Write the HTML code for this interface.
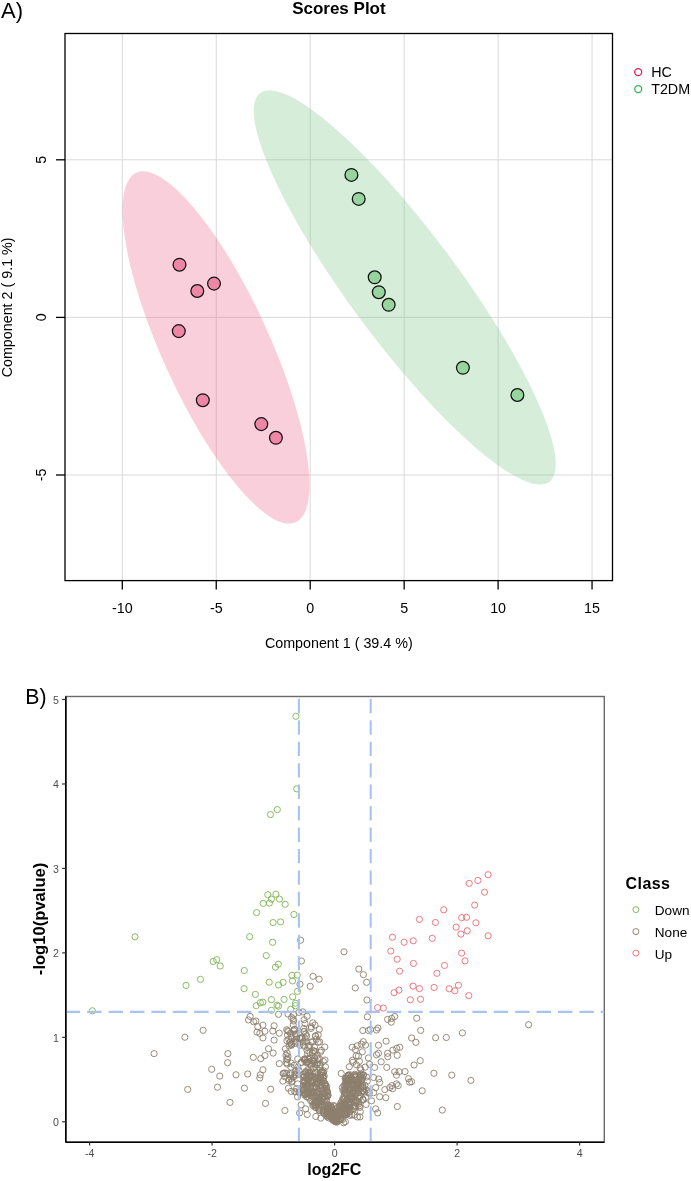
<!DOCTYPE html>
<html><head><meta charset="utf-8"><style>html,body{margin:0;padding:0;background:#fff;}svg{display:block;will-change:transform;}</style></head>
<body><svg width="691" height="1181" viewBox="0 0 691 1181">
<rect width="691" height="1181" fill="#fff"/>
<text x="1.0" y="18.3" font-size="22" font-family="Liberation Sans, sans-serif" fill="#000">A)</text>
<text x="338.9" y="14.2" font-size="17" font-weight="bold" text-anchor="middle" font-family="Liberation Sans, sans-serif" fill="#000">Scores Plot</text>
<line x1="122.30" y1="33.5" x2="122.30" y2="580.6" stroke="#d9d9d9" stroke-width="1"/>
<line x1="216.25" y1="33.5" x2="216.25" y2="580.6" stroke="#d9d9d9" stroke-width="1"/>
<line x1="310.20" y1="33.5" x2="310.20" y2="580.6" stroke="#d9d9d9" stroke-width="1"/>
<line x1="404.15" y1="33.5" x2="404.15" y2="580.6" stroke="#d9d9d9" stroke-width="1"/>
<line x1="498.10" y1="33.5" x2="498.10" y2="580.6" stroke="#d9d9d9" stroke-width="1"/>
<line x1="592.05" y1="33.5" x2="592.05" y2="580.6" stroke="#d9d9d9" stroke-width="1"/>
<line x1="65.0" y1="159.80" x2="612.5" y2="159.80" stroke="#d9d9d9" stroke-width="1"/>
<line x1="65.0" y1="317.40" x2="612.5" y2="317.40" stroke="#d9d9d9" stroke-width="1"/>
<line x1="65.0" y1="475.00" x2="612.5" y2="475.00" stroke="#d9d9d9" stroke-width="1"/>
<ellipse cx="216" cy="347.45" rx="192.08" ry="53.64" transform="rotate(65.47 216 347.45)" fill="rgb(238,105,146)" fill-opacity="0.32"/>
<ellipse cx="404.75" cy="287.45" rx="242.29" ry="54.5" transform="rotate(53.38 404.75 287.45)" fill="rgb(128,200,140)" fill-opacity="0.32"/>
<circle cx="179.5" cy="264.7" r="6.4" fill="#ee87a5" stroke="#111" stroke-width="1.25"/>
<circle cx="197.3" cy="291.0" r="6.4" fill="#ee87a5" stroke="#111" stroke-width="1.25"/>
<circle cx="214.0" cy="283.6" r="6.4" fill="#ee87a5" stroke="#111" stroke-width="1.25"/>
<circle cx="178.8" cy="331.1" r="6.4" fill="#ee87a5" stroke="#111" stroke-width="1.25"/>
<circle cx="202.8" cy="400.2" r="6.4" fill="#ee87a5" stroke="#111" stroke-width="1.25"/>
<circle cx="261.3" cy="424.1" r="6.4" fill="#ee87a5" stroke="#111" stroke-width="1.25"/>
<circle cx="275.9" cy="437.8" r="6.4" fill="#ee87a5" stroke="#111" stroke-width="1.25"/>
<circle cx="351.4" cy="174.9" r="6.4" fill="#97d59e" stroke="#111" stroke-width="1.25"/>
<circle cx="358.7" cy="198.9" r="6.4" fill="#97d59e" stroke="#111" stroke-width="1.25"/>
<circle cx="374.7" cy="277.3" r="6.4" fill="#97d59e" stroke="#111" stroke-width="1.25"/>
<circle cx="378.8" cy="292.2" r="6.4" fill="#97d59e" stroke="#111" stroke-width="1.25"/>
<circle cx="388.7" cy="304.8" r="6.4" fill="#97d59e" stroke="#111" stroke-width="1.25"/>
<circle cx="462.9" cy="367.8" r="6.4" fill="#97d59e" stroke="#111" stroke-width="1.25"/>
<circle cx="517.4" cy="395" r="6.4" fill="#97d59e" stroke="#111" stroke-width="1.25"/>
<rect x="65.0" y="33.5" width="547.5" height="547.1" fill="none" stroke="#000" stroke-width="1.3"/>
<line x1="122.30" y1="580.6" x2="122.30" y2="589.6" stroke="#000" stroke-width="1.3"/>
<text x="122.30" y="613.3" font-size="14.3" text-anchor="middle" font-family="Liberation Sans, sans-serif" fill="#000">-10</text>
<line x1="216.25" y1="580.6" x2="216.25" y2="589.6" stroke="#000" stroke-width="1.3"/>
<text x="216.25" y="613.3" font-size="14.3" text-anchor="middle" font-family="Liberation Sans, sans-serif" fill="#000">-5</text>
<line x1="310.20" y1="580.6" x2="310.20" y2="589.6" stroke="#000" stroke-width="1.3"/>
<text x="310.20" y="613.3" font-size="14.3" text-anchor="middle" font-family="Liberation Sans, sans-serif" fill="#000">0</text>
<line x1="404.15" y1="580.6" x2="404.15" y2="589.6" stroke="#000" stroke-width="1.3"/>
<text x="404.15" y="613.3" font-size="14.3" text-anchor="middle" font-family="Liberation Sans, sans-serif" fill="#000">5</text>
<line x1="498.10" y1="580.6" x2="498.10" y2="589.6" stroke="#000" stroke-width="1.3"/>
<text x="498.10" y="613.3" font-size="14.3" text-anchor="middle" font-family="Liberation Sans, sans-serif" fill="#000">10</text>
<line x1="592.05" y1="580.6" x2="592.05" y2="589.6" stroke="#000" stroke-width="1.3"/>
<text x="592.05" y="613.3" font-size="14.3" text-anchor="middle" font-family="Liberation Sans, sans-serif" fill="#000">15</text>
<line x1="56" y1="159.80" x2="65.0" y2="159.80" stroke="#000" stroke-width="1.3"/>
<text transform="translate(46.2 159.80) rotate(-90)" font-size="14.3" text-anchor="middle" font-family="Liberation Sans, sans-serif" fill="#000">5</text>
<line x1="56" y1="317.40" x2="65.0" y2="317.40" stroke="#000" stroke-width="1.3"/>
<text transform="translate(46.2 317.40) rotate(-90)" font-size="14.3" text-anchor="middle" font-family="Liberation Sans, sans-serif" fill="#000">0</text>
<line x1="56" y1="475.00" x2="65.0" y2="475.00" stroke="#000" stroke-width="1.3"/>
<text transform="translate(46.2 475.00) rotate(-90)" font-size="14.3" text-anchor="middle" font-family="Liberation Sans, sans-serif" fill="#000">-5</text>
<text x="338.8" y="647.7" font-size="14.3" text-anchor="middle" font-family="Liberation Sans, sans-serif" fill="#000">Component 1 ( 39.4 %)</text>
<text transform="translate(12.2 307.4) rotate(-90)" font-size="14.3" text-anchor="middle" font-family="Liberation Sans, sans-serif" fill="#000">Component 2 ( 9.1 %)</text>
<circle cx="638.2" cy="72.1" r="3.5" fill="none" stroke="#dc1e50" stroke-width="1.3"/>
<circle cx="638.2" cy="89.1" r="3.5" fill="none" stroke="#32b450" stroke-width="1.3"/>
<text x="651.2" y="77" font-size="14.3" font-family="Liberation Sans, sans-serif" fill="#000">HC</text>
<text x="651.2" y="94" font-size="14.3" font-family="Liberation Sans, sans-serif" fill="#000">T2DM</text>
<text x="25.2" y="704.4" font-size="21.3" font-family="Liberation Sans, sans-serif" fill="#000">B)</text>
<rect x="65.8" y="696.5" width="538.5" height="445.70000000000005" fill="none" stroke="#6a6a6a" stroke-width="1.4"/>
<circle cx="295.9" cy="716.3" r="3.1" fill="none" stroke="#7db352" stroke-width="0.9"/>
<circle cx="296.7" cy="788.8" r="3.1" fill="none" stroke="#7db352" stroke-width="0.9"/>
<circle cx="277.3" cy="809.6" r="3.1" fill="none" stroke="#7db352" stroke-width="0.9"/>
<circle cx="270.5" cy="814.6" r="3.1" fill="none" stroke="#7db352" stroke-width="0.9"/>
<circle cx="267.8" cy="894.7" r="3.1" fill="none" stroke="#7db352" stroke-width="0.9"/>
<circle cx="275.9" cy="894.2" r="3.1" fill="none" stroke="#7db352" stroke-width="0.9"/>
<circle cx="271.4" cy="899.1" r="3.1" fill="none" stroke="#7db352" stroke-width="0.9"/>
<circle cx="279.5" cy="899.1" r="3.1" fill="none" stroke="#7db352" stroke-width="0.9"/>
<circle cx="263.2" cy="903.4" r="3.1" fill="none" stroke="#7db352" stroke-width="0.9"/>
<circle cx="269.4" cy="903.1" r="3.1" fill="none" stroke="#7db352" stroke-width="0.9"/>
<circle cx="285.2" cy="904.3" r="3.1" fill="none" stroke="#7db352" stroke-width="0.9"/>
<circle cx="256.6" cy="912.6" r="3.1" fill="none" stroke="#7db352" stroke-width="0.9"/>
<circle cx="293.9" cy="914.5" r="3.1" fill="none" stroke="#7db352" stroke-width="0.9"/>
<circle cx="273.1" cy="922.6" r="3.1" fill="none" stroke="#7db352" stroke-width="0.9"/>
<circle cx="280.6" cy="921.9" r="3.1" fill="none" stroke="#7db352" stroke-width="0.9"/>
<circle cx="249.7" cy="936.7" r="3.1" fill="none" stroke="#7db352" stroke-width="0.9"/>
<circle cx="272.6" cy="942.3" r="3.1" fill="none" stroke="#7db352" stroke-width="0.9"/>
<circle cx="135.0" cy="936.8" r="3.1" fill="none" stroke="#7db352" stroke-width="0.9"/>
<circle cx="92.4" cy="1010.8" r="3.1" fill="none" stroke="#7db352" stroke-width="0.9"/>
<circle cx="213.2" cy="961.4" r="3.1" fill="none" stroke="#7db352" stroke-width="0.9"/>
<circle cx="216.7" cy="959.7" r="3.1" fill="none" stroke="#7db352" stroke-width="0.9"/>
<circle cx="220.2" cy="966.0" r="3.1" fill="none" stroke="#7db352" stroke-width="0.9"/>
<circle cx="200.5" cy="979.4" r="3.1" fill="none" stroke="#7db352" stroke-width="0.9"/>
<circle cx="186.0" cy="985.4" r="3.1" fill="none" stroke="#7db352" stroke-width="0.9"/>
<circle cx="266.3" cy="955.6" r="3.1" fill="none" stroke="#7db352" stroke-width="0.9"/>
<circle cx="278.3" cy="964.2" r="3.1" fill="none" stroke="#7db352" stroke-width="0.9"/>
<circle cx="275.5" cy="967.2" r="3.1" fill="none" stroke="#7db352" stroke-width="0.9"/>
<circle cx="244.3" cy="970.5" r="3.1" fill="none" stroke="#7db352" stroke-width="0.9"/>
<circle cx="291.9" cy="975.3" r="3.1" fill="none" stroke="#7db352" stroke-width="0.9"/>
<circle cx="297.2" cy="975.1" r="3.1" fill="none" stroke="#7db352" stroke-width="0.9"/>
<circle cx="292.5" cy="980.9" r="3.1" fill="none" stroke="#7db352" stroke-width="0.9"/>
<circle cx="269.2" cy="982.2" r="3.1" fill="none" stroke="#7db352" stroke-width="0.9"/>
<circle cx="278.5" cy="985.0" r="3.1" fill="none" stroke="#7db352" stroke-width="0.9"/>
<circle cx="283.1" cy="982.4" r="3.1" fill="none" stroke="#7db352" stroke-width="0.9"/>
<circle cx="244.1" cy="988.7" r="3.1" fill="none" stroke="#7db352" stroke-width="0.9"/>
<circle cx="297.5" cy="991.3" r="3.1" fill="none" stroke="#7db352" stroke-width="0.9"/>
<circle cx="255.4" cy="994.4" r="3.1" fill="none" stroke="#7db352" stroke-width="0.9"/>
<circle cx="292.7" cy="996.8" r="3.1" fill="none" stroke="#7db352" stroke-width="0.9"/>
<circle cx="271.4" cy="999.6" r="3.1" fill="none" stroke="#7db352" stroke-width="0.9"/>
<circle cx="284.1" cy="999.4" r="3.1" fill="none" stroke="#7db352" stroke-width="0.9"/>
<circle cx="262.8" cy="1002.2" r="3.1" fill="none" stroke="#7db352" stroke-width="0.9"/>
<circle cx="260.3" cy="1002.7" r="3.1" fill="none" stroke="#7db352" stroke-width="0.9"/>
<circle cx="256.2" cy="1005.7" r="3.1" fill="none" stroke="#7db352" stroke-width="0.9"/>
<circle cx="277.0" cy="1005.2" r="3.1" fill="none" stroke="#7db352" stroke-width="0.9"/>
<circle cx="278.5" cy="1006.2" r="3.1" fill="none" stroke="#7db352" stroke-width="0.9"/>
<circle cx="295.5" cy="1003.2" r="3.1" fill="none" stroke="#7db352" stroke-width="0.9"/>
<circle cx="295.5" cy="1005.7" r="3.1" fill="none" stroke="#7db352" stroke-width="0.9"/>
<circle cx="271.4" cy="1010.3" r="3.1" fill="none" stroke="#7db352" stroke-width="0.9"/>
<circle cx="290.7" cy="1009.3" r="3.1" fill="none" stroke="#7db352" stroke-width="0.9"/>
<circle cx="488.1" cy="874.7" r="3.1" fill="none" stroke="#ea6b74" stroke-width="0.9"/>
<circle cx="477.9" cy="880.4" r="3.1" fill="none" stroke="#ea6b74" stroke-width="0.9"/>
<circle cx="469.2" cy="883.4" r="3.1" fill="none" stroke="#ea6b74" stroke-width="0.9"/>
<circle cx="484.5" cy="892.2" r="3.1" fill="none" stroke="#ea6b74" stroke-width="0.9"/>
<circle cx="474.7" cy="905.1" r="3.1" fill="none" stroke="#ea6b74" stroke-width="0.9"/>
<circle cx="443.7" cy="909.8" r="3.1" fill="none" stroke="#ea6b74" stroke-width="0.9"/>
<circle cx="419.5" cy="919.4" r="3.1" fill="none" stroke="#ea6b74" stroke-width="0.9"/>
<circle cx="435.4" cy="922.5" r="3.1" fill="none" stroke="#ea6b74" stroke-width="0.9"/>
<circle cx="461.7" cy="917.6" r="3.1" fill="none" stroke="#ea6b74" stroke-width="0.9"/>
<circle cx="466.5" cy="917.3" r="3.1" fill="none" stroke="#ea6b74" stroke-width="0.9"/>
<circle cx="475.9" cy="922.8" r="3.1" fill="none" stroke="#ea6b74" stroke-width="0.9"/>
<circle cx="456.1" cy="927.1" r="3.1" fill="none" stroke="#ea6b74" stroke-width="0.9"/>
<circle cx="467.2" cy="930.8" r="3.1" fill="none" stroke="#ea6b74" stroke-width="0.9"/>
<circle cx="460.9" cy="934.1" r="3.1" fill="none" stroke="#ea6b74" stroke-width="0.9"/>
<circle cx="488.1" cy="935.8" r="3.1" fill="none" stroke="#ea6b74" stroke-width="0.9"/>
<circle cx="432.2" cy="938.3" r="3.1" fill="none" stroke="#ea6b74" stroke-width="0.9"/>
<circle cx="392.4" cy="937.2" r="3.1" fill="none" stroke="#ea6b74" stroke-width="0.9"/>
<circle cx="404.1" cy="942.3" r="3.1" fill="none" stroke="#ea6b74" stroke-width="0.9"/>
<circle cx="413.2" cy="940.8" r="3.1" fill="none" stroke="#ea6b74" stroke-width="0.9"/>
<circle cx="390.8" cy="951.1" r="3.1" fill="none" stroke="#ea6b74" stroke-width="0.9"/>
<circle cx="397.2" cy="959.2" r="3.1" fill="none" stroke="#ea6b74" stroke-width="0.9"/>
<circle cx="413.4" cy="963.5" r="3.1" fill="none" stroke="#ea6b74" stroke-width="0.9"/>
<circle cx="399.6" cy="971.2" r="3.1" fill="none" stroke="#ea6b74" stroke-width="0.9"/>
<circle cx="436.9" cy="973.3" r="3.1" fill="none" stroke="#ea6b74" stroke-width="0.9"/>
<circle cx="413.1" cy="986.1" r="3.1" fill="none" stroke="#ea6b74" stroke-width="0.9"/>
<circle cx="419.4" cy="988.6" r="3.1" fill="none" stroke="#ea6b74" stroke-width="0.9"/>
<circle cx="434.1" cy="987.5" r="3.1" fill="none" stroke="#ea6b74" stroke-width="0.9"/>
<circle cx="398.9" cy="990.1" r="3.1" fill="none" stroke="#ea6b74" stroke-width="0.9"/>
<circle cx="394.1" cy="992.7" r="3.1" fill="none" stroke="#ea6b74" stroke-width="0.9"/>
<circle cx="410.3" cy="999.8" r="3.1" fill="none" stroke="#ea6b74" stroke-width="0.9"/>
<circle cx="420.5" cy="999.3" r="3.1" fill="none" stroke="#ea6b74" stroke-width="0.9"/>
<circle cx="377.6" cy="1007.6" r="3.1" fill="none" stroke="#ea6b74" stroke-width="0.9"/>
<circle cx="383.3" cy="1008.1" r="3.1" fill="none" stroke="#ea6b74" stroke-width="0.9"/>
<circle cx="461.6" cy="953.1" r="3.1" fill="none" stroke="#ea6b74" stroke-width="0.9"/>
<circle cx="465.0" cy="960.9" r="3.1" fill="none" stroke="#ea6b74" stroke-width="0.9"/>
<circle cx="444.5" cy="965.5" r="3.1" fill="none" stroke="#ea6b74" stroke-width="0.9"/>
<circle cx="458.4" cy="985.2" r="3.1" fill="none" stroke="#ea6b74" stroke-width="0.9"/>
<circle cx="449.2" cy="988.8" r="3.1" fill="none" stroke="#ea6b74" stroke-width="0.9"/>
<circle cx="454.8" cy="990.8" r="3.1" fill="none" stroke="#ea6b74" stroke-width="0.9"/>
<circle cx="468.8" cy="995.6" r="3.1" fill="none" stroke="#ea6b74" stroke-width="0.9"/>
<circle cx="300.6" cy="940.2" r="3.1" fill="none" stroke="#8c7f6d" stroke-width="0.9"/>
<circle cx="344.0" cy="951.8" r="3.1" fill="none" stroke="#8c7f6d" stroke-width="0.9"/>
<circle cx="301.4" cy="961.0" r="3.1" fill="none" stroke="#8c7f6d" stroke-width="0.9"/>
<circle cx="358.8" cy="969.1" r="3.1" fill="none" stroke="#8c7f6d" stroke-width="0.9"/>
<circle cx="363.4" cy="974.6" r="3.1" fill="none" stroke="#8c7f6d" stroke-width="0.9"/>
<circle cx="366.6" cy="982.3" r="3.1" fill="none" stroke="#8c7f6d" stroke-width="0.9"/>
<circle cx="313.0" cy="976.3" r="3.1" fill="none" stroke="#8c7f6d" stroke-width="0.9"/>
<circle cx="319.1" cy="979.2" r="3.1" fill="none" stroke="#8c7f6d" stroke-width="0.9"/>
<circle cx="310.2" cy="986.3" r="3.1" fill="none" stroke="#8c7f6d" stroke-width="0.9"/>
<circle cx="300.0" cy="984.2" r="3.1" fill="none" stroke="#8c7f6d" stroke-width="0.9"/>
<circle cx="355.3" cy="987.9" r="3.1" fill="none" stroke="#8c7f6d" stroke-width="0.9"/>
<circle cx="366.9" cy="1000.0" r="3.1" fill="none" stroke="#8c7f6d" stroke-width="0.9"/>
<circle cx="278.5" cy="1014.3" r="3.1" fill="none" stroke="#8c7f6d" stroke-width="0.9"/>
<circle cx="250.1" cy="1016.4" r="3.1" fill="none" stroke="#8c7f6d" stroke-width="0.9"/>
<circle cx="367.4" cy="1016.8" r="3.1" fill="none" stroke="#8c7f6d" stroke-width="0.9"/>
<circle cx="387.6" cy="1019.4" r="3.1" fill="none" stroke="#8c7f6d" stroke-width="0.9"/>
<circle cx="391.7" cy="1018.4" r="3.1" fill="none" stroke="#8c7f6d" stroke-width="0.9"/>
<circle cx="394.7" cy="1016.5" r="3.1" fill="none" stroke="#8c7f6d" stroke-width="0.9"/>
<circle cx="391.2" cy="1022.2" r="3.1" fill="none" stroke="#8c7f6d" stroke-width="0.9"/>
<circle cx="362.8" cy="1030.5" r="3.1" fill="none" stroke="#8c7f6d" stroke-width="0.9"/>
<circle cx="368.4" cy="1030.5" r="3.1" fill="none" stroke="#8c7f6d" stroke-width="0.9"/>
<circle cx="370.4" cy="1029.5" r="3.1" fill="none" stroke="#8c7f6d" stroke-width="0.9"/>
<circle cx="376.5" cy="1030.0" r="3.1" fill="none" stroke="#8c7f6d" stroke-width="0.9"/>
<circle cx="378.0" cy="1028.0" r="3.1" fill="none" stroke="#8c7f6d" stroke-width="0.9"/>
<circle cx="386.1" cy="1041.2" r="3.1" fill="none" stroke="#8c7f6d" stroke-width="0.9"/>
<circle cx="378.5" cy="1045.2" r="3.1" fill="none" stroke="#8c7f6d" stroke-width="0.9"/>
<circle cx="363.3" cy="1041.7" r="3.1" fill="none" stroke="#8c7f6d" stroke-width="0.9"/>
<circle cx="361.3" cy="1044.2" r="3.1" fill="none" stroke="#8c7f6d" stroke-width="0.9"/>
<circle cx="352.2" cy="1047.2" r="3.1" fill="none" stroke="#8c7f6d" stroke-width="0.9"/>
<circle cx="357.2" cy="1045.7" r="3.1" fill="none" stroke="#8c7f6d" stroke-width="0.9"/>
<circle cx="396.7" cy="1048.3" r="3.1" fill="none" stroke="#8c7f6d" stroke-width="0.9"/>
<circle cx="399.8" cy="1047.2" r="3.1" fill="none" stroke="#8c7f6d" stroke-width="0.9"/>
<circle cx="362.3" cy="1051.8" r="3.1" fill="none" stroke="#8c7f6d" stroke-width="0.9"/>
<circle cx="356.2" cy="1055.8" r="3.1" fill="none" stroke="#8c7f6d" stroke-width="0.9"/>
<circle cx="378.5" cy="1053.3" r="3.1" fill="none" stroke="#8c7f6d" stroke-width="0.9"/>
<circle cx="376.5" cy="1054.8" r="3.1" fill="none" stroke="#8c7f6d" stroke-width="0.9"/>
<circle cx="387.6" cy="1053.3" r="3.1" fill="none" stroke="#8c7f6d" stroke-width="0.9"/>
<circle cx="397.2" cy="1055.3" r="3.1" fill="none" stroke="#8c7f6d" stroke-width="0.9"/>
<circle cx="368.4" cy="1057.9" r="3.1" fill="none" stroke="#8c7f6d" stroke-width="0.9"/>
<circle cx="416.7" cy="1018.2" r="3.1" fill="none" stroke="#8c7f6d" stroke-width="0.9"/>
<circle cx="420.7" cy="1030.4" r="3.1" fill="none" stroke="#8c7f6d" stroke-width="0.9"/>
<circle cx="411.6" cy="1038.0" r="3.1" fill="none" stroke="#8c7f6d" stroke-width="0.9"/>
<circle cx="415.9" cy="1042.3" r="3.1" fill="none" stroke="#8c7f6d" stroke-width="0.9"/>
<circle cx="435.6" cy="1037.7" r="3.1" fill="none" stroke="#8c7f6d" stroke-width="0.9"/>
<circle cx="446.3" cy="1037.5" r="3.1" fill="none" stroke="#8c7f6d" stroke-width="0.9"/>
<circle cx="462.4" cy="1032.9" r="3.1" fill="none" stroke="#8c7f6d" stroke-width="0.9"/>
<circle cx="420.2" cy="1060.6" r="3.1" fill="none" stroke="#8c7f6d" stroke-width="0.9"/>
<circle cx="414.1" cy="1065.0" r="3.1" fill="none" stroke="#8c7f6d" stroke-width="0.9"/>
<circle cx="528.6" cy="1024.7" r="3.1" fill="none" stroke="#8c7f6d" stroke-width="0.9"/>
<circle cx="405.0" cy="1071.6" r="3.1" fill="none" stroke="#8c7f6d" stroke-width="0.9"/>
<circle cx="433.9" cy="1073.3" r="3.1" fill="none" stroke="#8c7f6d" stroke-width="0.9"/>
<circle cx="451.8" cy="1075.1" r="3.1" fill="none" stroke="#8c7f6d" stroke-width="0.9"/>
<circle cx="470.9" cy="1080.4" r="3.1" fill="none" stroke="#8c7f6d" stroke-width="0.9"/>
<circle cx="408.5" cy="1078.7" r="3.1" fill="none" stroke="#8c7f6d" stroke-width="0.9"/>
<circle cx="409.6" cy="1082.2" r="3.1" fill="none" stroke="#8c7f6d" stroke-width="0.9"/>
<circle cx="411.6" cy="1081.7" r="3.1" fill="none" stroke="#8c7f6d" stroke-width="0.9"/>
<circle cx="422.2" cy="1090.8" r="3.1" fill="none" stroke="#8c7f6d" stroke-width="0.9"/>
<circle cx="442.3" cy="1110.1" r="3.1" fill="none" stroke="#8c7f6d" stroke-width="0.9"/>
<circle cx="184.9" cy="1037.2" r="3.1" fill="none" stroke="#8c7f6d" stroke-width="0.9"/>
<circle cx="154.1" cy="1053.6" r="3.1" fill="none" stroke="#8c7f6d" stroke-width="0.9"/>
<circle cx="187.7" cy="1089.4" r="3.1" fill="none" stroke="#8c7f6d" stroke-width="0.9"/>
<circle cx="203.1" cy="1030.3" r="3.1" fill="none" stroke="#8c7f6d" stroke-width="0.9"/>
<circle cx="248.5" cy="1019.9" r="3.1" fill="none" stroke="#8c7f6d" stroke-width="0.9"/>
<circle cx="253.6" cy="1021.7" r="3.1" fill="none" stroke="#8c7f6d" stroke-width="0.9"/>
<circle cx="257.8" cy="1026.7" r="3.1" fill="none" stroke="#8c7f6d" stroke-width="0.9"/>
<circle cx="262.9" cy="1025.2" r="3.1" fill="none" stroke="#8c7f6d" stroke-width="0.9"/>
<circle cx="257.0" cy="1032.1" r="3.1" fill="none" stroke="#8c7f6d" stroke-width="0.9"/>
<circle cx="259.8" cy="1033.3" r="3.1" fill="none" stroke="#8c7f6d" stroke-width="0.9"/>
<circle cx="262.9" cy="1037.9" r="3.1" fill="none" stroke="#8c7f6d" stroke-width="0.9"/>
<circle cx="264.9" cy="1031.3" r="3.1" fill="none" stroke="#8c7f6d" stroke-width="0.9"/>
<circle cx="227.9" cy="1053.6" r="3.1" fill="none" stroke="#8c7f6d" stroke-width="0.9"/>
<circle cx="227.6" cy="1062.7" r="3.1" fill="none" stroke="#8c7f6d" stroke-width="0.9"/>
<circle cx="253.3" cy="1057.4" r="3.1" fill="none" stroke="#8c7f6d" stroke-width="0.9"/>
<circle cx="260.8" cy="1058.6" r="3.1" fill="none" stroke="#8c7f6d" stroke-width="0.9"/>
<circle cx="264.9" cy="1055.6" r="3.1" fill="none" stroke="#8c7f6d" stroke-width="0.9"/>
<circle cx="211.7" cy="1069.3" r="3.1" fill="none" stroke="#8c7f6d" stroke-width="0.9"/>
<circle cx="219.8" cy="1076.1" r="3.1" fill="none" stroke="#8c7f6d" stroke-width="0.9"/>
<circle cx="236.0" cy="1074.8" r="3.1" fill="none" stroke="#8c7f6d" stroke-width="0.9"/>
<circle cx="247.7" cy="1074.0" r="3.1" fill="none" stroke="#8c7f6d" stroke-width="0.9"/>
<circle cx="260.3" cy="1074.8" r="3.1" fill="none" stroke="#8c7f6d" stroke-width="0.9"/>
<circle cx="262.9" cy="1069.8" r="3.1" fill="none" stroke="#8c7f6d" stroke-width="0.9"/>
<circle cx="259.8" cy="1077.9" r="3.1" fill="none" stroke="#8c7f6d" stroke-width="0.9"/>
<circle cx="217.5" cy="1087.2" r="3.1" fill="none" stroke="#8c7f6d" stroke-width="0.9"/>
<circle cx="244.4" cy="1088.2" r="3.1" fill="none" stroke="#8c7f6d" stroke-width="0.9"/>
<circle cx="230.0" cy="1102.4" r="3.1" fill="none" stroke="#8c7f6d" stroke-width="0.9"/>
<circle cx="265.5" cy="1103.4" r="3.1" fill="none" stroke="#8c7f6d" stroke-width="0.9"/>
<circle cx="288.0" cy="1014.1" r="3.1" fill="none" stroke="#8c7f6d" stroke-width="0.9"/>
<circle cx="291.5" cy="1017.5" r="3.1" fill="none" stroke="#8c7f6d" stroke-width="0.9"/>
<circle cx="293.6" cy="1021.0" r="3.1" fill="none" stroke="#8c7f6d" stroke-width="0.9"/>
<circle cx="293.2" cy="1024.9" r="3.1" fill="none" stroke="#8c7f6d" stroke-width="0.9"/>
<circle cx="255.9" cy="1021.0" r="3.1" fill="none" stroke="#8c7f6d" stroke-width="0.9"/>
<circle cx="274.1" cy="1025.8" r="3.1" fill="none" stroke="#8c7f6d" stroke-width="0.9"/>
<circle cx="272.8" cy="1031.0" r="3.1" fill="none" stroke="#8c7f6d" stroke-width="0.9"/>
<circle cx="279.3" cy="1033.2" r="3.1" fill="none" stroke="#8c7f6d" stroke-width="0.9"/>
<circle cx="286.7" cy="1029.7" r="3.1" fill="none" stroke="#8c7f6d" stroke-width="0.9"/>
<circle cx="290.6" cy="1033.2" r="3.1" fill="none" stroke="#8c7f6d" stroke-width="0.9"/>
<circle cx="274.1" cy="1040.1" r="3.1" fill="none" stroke="#8c7f6d" stroke-width="0.9"/>
<circle cx="268.5" cy="1048.8" r="3.1" fill="none" stroke="#8c7f6d" stroke-width="0.9"/>
<circle cx="273.2" cy="1053.1" r="3.1" fill="none" stroke="#8c7f6d" stroke-width="0.9"/>
<circle cx="279.3" cy="1063.6" r="3.1" fill="none" stroke="#8c7f6d" stroke-width="0.9"/>
<circle cx="286.3" cy="1062.7" r="3.1" fill="none" stroke="#8c7f6d" stroke-width="0.9"/>
<circle cx="285.4" cy="1048.8" r="3.1" fill="none" stroke="#8c7f6d" stroke-width="0.9"/>
<circle cx="287.1" cy="1053.1" r="3.1" fill="none" stroke="#8c7f6d" stroke-width="0.9"/>
<circle cx="288.0" cy="1056.6" r="3.1" fill="none" stroke="#8c7f6d" stroke-width="0.9"/>
<circle cx="291.5" cy="1044.5" r="3.1" fill="none" stroke="#8c7f6d" stroke-width="0.9"/>
<circle cx="294.1" cy="1041.0" r="3.1" fill="none" stroke="#8c7f6d" stroke-width="0.9"/>
<circle cx="293.7" cy="1014.5" r="3.1" fill="none" stroke="#8c7f6d" stroke-width="0.9"/>
<circle cx="298.9" cy="1012.4" r="3.1" fill="none" stroke="#8c7f6d" stroke-width="0.9"/>
<circle cx="302.8" cy="1011.9" r="3.1" fill="none" stroke="#8c7f6d" stroke-width="0.9"/>
<circle cx="307.1" cy="1016.3" r="3.1" fill="none" stroke="#8c7f6d" stroke-width="0.9"/>
<circle cx="293.2" cy="1018.9" r="3.1" fill="none" stroke="#8c7f6d" stroke-width="0.9"/>
<circle cx="304.1" cy="1019.7" r="3.1" fill="none" stroke="#8c7f6d" stroke-width="0.9"/>
<circle cx="305.0" cy="1023.6" r="3.1" fill="none" stroke="#8c7f6d" stroke-width="0.9"/>
<circle cx="312.8" cy="1022.8" r="3.1" fill="none" stroke="#8c7f6d" stroke-width="0.9"/>
<circle cx="315.0" cy="1025.0" r="3.1" fill="none" stroke="#8c7f6d" stroke-width="0.9"/>
<circle cx="319.3" cy="1029.3" r="3.1" fill="none" stroke="#8c7f6d" stroke-width="0.9"/>
<circle cx="311.0" cy="1028.4" r="3.1" fill="none" stroke="#8c7f6d" stroke-width="0.9"/>
<circle cx="303.7" cy="1028.4" r="3.1" fill="none" stroke="#8c7f6d" stroke-width="0.9"/>
<circle cx="303.7" cy="1031.5" r="3.1" fill="none" stroke="#8c7f6d" stroke-width="0.9"/>
<circle cx="288.5" cy="1031.5" r="3.1" fill="none" stroke="#8c7f6d" stroke-width="0.9"/>
<circle cx="306.7" cy="1035.8" r="3.1" fill="none" stroke="#8c7f6d" stroke-width="0.9"/>
<circle cx="315.4" cy="1035.8" r="3.1" fill="none" stroke="#8c7f6d" stroke-width="0.9"/>
<circle cx="301.5" cy="1037.5" r="3.1" fill="none" stroke="#8c7f6d" stroke-width="0.9"/>
<circle cx="290.2" cy="1041.9" r="3.1" fill="none" stroke="#8c7f6d" stroke-width="0.9"/>
<circle cx="296.3" cy="1041.9" r="3.1" fill="none" stroke="#8c7f6d" stroke-width="0.9"/>
<circle cx="303.2" cy="1041.9" r="3.1" fill="none" stroke="#8c7f6d" stroke-width="0.9"/>
<circle cx="311.0" cy="1041.9" r="3.1" fill="none" stroke="#8c7f6d" stroke-width="0.9"/>
<circle cx="319.7" cy="1041.9" r="3.1" fill="none" stroke="#8c7f6d" stroke-width="0.9"/>
<circle cx="316.3" cy="1039.3" r="3.1" fill="none" stroke="#8c7f6d" stroke-width="0.9"/>
<circle cx="355.4" cy="1049.6" r="3.1" fill="none" stroke="#8c7f6d" stroke-width="0.9"/>
<circle cx="365.5" cy="1045.1" r="3.1" fill="none" stroke="#8c7f6d" stroke-width="0.9"/>
<circle cx="358.4" cy="1056.2" r="3.1" fill="none" stroke="#8c7f6d" stroke-width="0.9"/>
<circle cx="352.4" cy="1060.3" r="3.1" fill="none" stroke="#8c7f6d" stroke-width="0.9"/>
<circle cx="352.9" cy="1062.3" r="3.1" fill="none" stroke="#8c7f6d" stroke-width="0.9"/>
<circle cx="359.4" cy="1061.3" r="3.1" fill="none" stroke="#8c7f6d" stroke-width="0.9"/>
<circle cx="349.3" cy="1066.8" r="3.1" fill="none" stroke="#8c7f6d" stroke-width="0.9"/>
<circle cx="356.4" cy="1064.8" r="3.1" fill="none" stroke="#8c7f6d" stroke-width="0.9"/>
<circle cx="341.2" cy="1073.4" r="3.1" fill="none" stroke="#8c7f6d" stroke-width="0.9"/>
<circle cx="369.6" cy="1064.3" r="3.1" fill="none" stroke="#8c7f6d" stroke-width="0.9"/>
<circle cx="374.6" cy="1067.4" r="3.1" fill="none" stroke="#8c7f6d" stroke-width="0.9"/>
<circle cx="381.2" cy="1061.8" r="3.1" fill="none" stroke="#8c7f6d" stroke-width="0.9"/>
<circle cx="386.8" cy="1067.4" r="3.1" fill="none" stroke="#8c7f6d" stroke-width="0.9"/>
<circle cx="387.8" cy="1056.7" r="3.1" fill="none" stroke="#8c7f6d" stroke-width="0.9"/>
<circle cx="373.6" cy="1077.5" r="3.1" fill="none" stroke="#8c7f6d" stroke-width="0.9"/>
<circle cx="378.7" cy="1079.0" r="3.1" fill="none" stroke="#8c7f6d" stroke-width="0.9"/>
<circle cx="379.7" cy="1082.5" r="3.1" fill="none" stroke="#8c7f6d" stroke-width="0.9"/>
<circle cx="375.7" cy="1087.6" r="3.1" fill="none" stroke="#8c7f6d" stroke-width="0.9"/>
<circle cx="384.8" cy="1089.6" r="3.1" fill="none" stroke="#8c7f6d" stroke-width="0.9"/>
<circle cx="389.8" cy="1087.6" r="3.1" fill="none" stroke="#8c7f6d" stroke-width="0.9"/>
<circle cx="391.9" cy="1085.6" r="3.1" fill="none" stroke="#8c7f6d" stroke-width="0.9"/>
<circle cx="385.8" cy="1097.7" r="3.1" fill="none" stroke="#8c7f6d" stroke-width="0.9"/>
<circle cx="379.7" cy="1096.7" r="3.1" fill="none" stroke="#8c7f6d" stroke-width="0.9"/>
<circle cx="373.6" cy="1092.7" r="3.1" fill="none" stroke="#8c7f6d" stroke-width="0.9"/>
<circle cx="375.7" cy="1108.9" r="3.1" fill="none" stroke="#8c7f6d" stroke-width="0.9"/>
<circle cx="377.7" cy="1112.9" r="3.1" fill="none" stroke="#8c7f6d" stroke-width="0.9"/>
<circle cx="371.6" cy="1100.8" r="3.1" fill="none" stroke="#8c7f6d" stroke-width="0.9"/>
<circle cx="357.4" cy="1117.0" r="3.1" fill="none" stroke="#8c7f6d" stroke-width="0.9"/>
<circle cx="392.9" cy="1050.1" r="3.1" fill="none" stroke="#8c7f6d" stroke-width="0.9"/>
<circle cx="392.6" cy="1088.7" r="3.1" fill="none" stroke="#8c7f6d" stroke-width="0.9"/>
<circle cx="396.5" cy="1083.9" r="3.1" fill="none" stroke="#8c7f6d" stroke-width="0.9"/>
<circle cx="398.2" cy="1085.6" r="3.1" fill="none" stroke="#8c7f6d" stroke-width="0.9"/>
<circle cx="396.5" cy="1075.2" r="3.1" fill="none" stroke="#8c7f6d" stroke-width="0.9"/>
<circle cx="394.7" cy="1071.7" r="3.1" fill="none" stroke="#8c7f6d" stroke-width="0.9"/>
<circle cx="399.1" cy="1071.7" r="3.1" fill="none" stroke="#8c7f6d" stroke-width="0.9"/>
<circle cx="397.3" cy="1106.5" r="3.1" fill="none" stroke="#8c7f6d" stroke-width="0.9"/>
<circle cx="360.0" cy="1116.9" r="3.1" fill="none" stroke="#8c7f6d" stroke-width="0.9"/>
<circle cx="282.9" cy="1081.1" r="3.1" fill="none" stroke="#8c7f6d" stroke-width="0.9"/>
<circle cx="270.7" cy="1089.2" r="3.1" fill="none" stroke="#8c7f6d" stroke-width="0.9"/>
<circle cx="288.4" cy="1088.2" r="3.1" fill="none" stroke="#8c7f6d" stroke-width="0.9"/>
<circle cx="284.9" cy="1110.5" r="3.1" fill="none" stroke="#8c7f6d" stroke-width="0.9"/>
<circle cx="296.0" cy="1091.7" r="3.1" fill="none" stroke="#8c7f6d" stroke-width="0.9"/>
<circle cx="297.5" cy="1096.8" r="3.1" fill="none" stroke="#8c7f6d" stroke-width="0.9"/>
<circle cx="301.1" cy="1104.9" r="3.1" fill="none" stroke="#8c7f6d" stroke-width="0.9"/>
<circle cx="299.6" cy="1113.0" r="3.1" fill="none" stroke="#8c7f6d" stroke-width="0.9"/>
<circle cx="305.7" cy="1108.9" r="3.1" fill="none" stroke="#8c7f6d" stroke-width="0.9"/>
<circle cx="307.2" cy="1114.5" r="3.1" fill="none" stroke="#8c7f6d" stroke-width="0.9"/>
<circle cx="315.8" cy="1116.5" r="3.1" fill="none" stroke="#8c7f6d" stroke-width="0.9"/>
<circle cx="320.8" cy="1118.1" r="3.1" fill="none" stroke="#8c7f6d" stroke-width="0.9"/>
<circle cx="292.0" cy="1081.1" r="3.1" fill="none" stroke="#8c7f6d" stroke-width="0.9"/>
<circle cx="293.5" cy="1077.0" r="3.1" fill="none" stroke="#8c7f6d" stroke-width="0.9"/>
<circle cx="340.1" cy="1109.1" r="3.1" fill="none" stroke="#8c7f6d" stroke-width="0.9"/>
<circle cx="336.7" cy="1120.7" r="3.1" fill="none" stroke="#8c7f6d" stroke-width="0.9"/>
<circle cx="341.3" cy="1109.9" r="3.1" fill="none" stroke="#8c7f6d" stroke-width="0.9"/>
<circle cx="349.8" cy="1107.2" r="3.1" fill="none" stroke="#8c7f6d" stroke-width="0.9"/>
<circle cx="333.3" cy="1120.4" r="3.1" fill="none" stroke="#8c7f6d" stroke-width="0.9"/>
<circle cx="329.4" cy="1114.5" r="3.1" fill="none" stroke="#8c7f6d" stroke-width="0.9"/>
<circle cx="343.2" cy="1109.3" r="3.1" fill="none" stroke="#8c7f6d" stroke-width="0.9"/>
<circle cx="344.4" cy="1110.7" r="3.1" fill="none" stroke="#8c7f6d" stroke-width="0.9"/>
<circle cx="333.4" cy="1114.6" r="3.1" fill="none" stroke="#8c7f6d" stroke-width="0.9"/>
<circle cx="337.6" cy="1107.5" r="3.1" fill="none" stroke="#8c7f6d" stroke-width="0.9"/>
<circle cx="331.3" cy="1114.4" r="3.1" fill="none" stroke="#8c7f6d" stroke-width="0.9"/>
<circle cx="345.9" cy="1107.2" r="3.1" fill="none" stroke="#8c7f6d" stroke-width="0.9"/>
<circle cx="336.5" cy="1118.9" r="3.1" fill="none" stroke="#8c7f6d" stroke-width="0.9"/>
<circle cx="328.6" cy="1112.2" r="3.1" fill="none" stroke="#8c7f6d" stroke-width="0.9"/>
<circle cx="346.9" cy="1114.3" r="3.1" fill="none" stroke="#8c7f6d" stroke-width="0.9"/>
<circle cx="350.3" cy="1107.8" r="3.1" fill="none" stroke="#8c7f6d" stroke-width="0.9"/>
<circle cx="344.9" cy="1114.9" r="3.1" fill="none" stroke="#8c7f6d" stroke-width="0.9"/>
<circle cx="341.4" cy="1111.4" r="3.1" fill="none" stroke="#8c7f6d" stroke-width="0.9"/>
<circle cx="338.2" cy="1116.6" r="3.1" fill="none" stroke="#8c7f6d" stroke-width="0.9"/>
<circle cx="348.7" cy="1107.1" r="3.1" fill="none" stroke="#8c7f6d" stroke-width="0.9"/>
<circle cx="335.6" cy="1116.7" r="3.1" fill="none" stroke="#8c7f6d" stroke-width="0.9"/>
<circle cx="327.9" cy="1106.2" r="3.1" fill="none" stroke="#8c7f6d" stroke-width="0.9"/>
<circle cx="335.7" cy="1121.8" r="3.1" fill="none" stroke="#8c7f6d" stroke-width="0.9"/>
<circle cx="332.4" cy="1110.4" r="3.1" fill="none" stroke="#8c7f6d" stroke-width="0.9"/>
<circle cx="329.3" cy="1105.8" r="3.1" fill="none" stroke="#8c7f6d" stroke-width="0.9"/>
<circle cx="331.0" cy="1112.1" r="3.1" fill="none" stroke="#8c7f6d" stroke-width="0.9"/>
<circle cx="341.7" cy="1106.6" r="3.1" fill="none" stroke="#8c7f6d" stroke-width="0.9"/>
<circle cx="335.1" cy="1114.2" r="3.1" fill="none" stroke="#8c7f6d" stroke-width="0.9"/>
<circle cx="339.5" cy="1115.4" r="3.1" fill="none" stroke="#8c7f6d" stroke-width="0.9"/>
<circle cx="335.8" cy="1110.0" r="3.1" fill="none" stroke="#8c7f6d" stroke-width="0.9"/>
<circle cx="327.1" cy="1115.9" r="3.1" fill="none" stroke="#8c7f6d" stroke-width="0.9"/>
<circle cx="327.0" cy="1109.1" r="3.1" fill="none" stroke="#8c7f6d" stroke-width="0.9"/>
<circle cx="342.4" cy="1103.7" r="3.1" fill="none" stroke="#8c7f6d" stroke-width="0.9"/>
<circle cx="331.6" cy="1108.7" r="3.1" fill="none" stroke="#8c7f6d" stroke-width="0.9"/>
<circle cx="338.0" cy="1112.1" r="3.1" fill="none" stroke="#8c7f6d" stroke-width="0.9"/>
<circle cx="334.3" cy="1106.6" r="3.1" fill="none" stroke="#8c7f6d" stroke-width="0.9"/>
<circle cx="331.8" cy="1109.2" r="3.1" fill="none" stroke="#8c7f6d" stroke-width="0.9"/>
<circle cx="340.0" cy="1119.5" r="3.1" fill="none" stroke="#8c7f6d" stroke-width="0.9"/>
<circle cx="333.9" cy="1105.6" r="3.1" fill="none" stroke="#8c7f6d" stroke-width="0.9"/>
<circle cx="330.8" cy="1112.9" r="3.1" fill="none" stroke="#8c7f6d" stroke-width="0.9"/>
<circle cx="331.8" cy="1117.3" r="3.1" fill="none" stroke="#8c7f6d" stroke-width="0.9"/>
<circle cx="330.6" cy="1105.7" r="3.1" fill="none" stroke="#8c7f6d" stroke-width="0.9"/>
<circle cx="346.5" cy="1112.0" r="3.1" fill="none" stroke="#8c7f6d" stroke-width="0.9"/>
<circle cx="334.0" cy="1120.0" r="3.1" fill="none" stroke="#8c7f6d" stroke-width="0.9"/>
<circle cx="345.7" cy="1104.3" r="3.1" fill="none" stroke="#8c7f6d" stroke-width="0.9"/>
<circle cx="334.5" cy="1113.7" r="3.1" fill="none" stroke="#8c7f6d" stroke-width="0.9"/>
<circle cx="337.0" cy="1121.8" r="3.1" fill="none" stroke="#8c7f6d" stroke-width="0.9"/>
<circle cx="348.8" cy="1105.3" r="3.1" fill="none" stroke="#8c7f6d" stroke-width="0.9"/>
<circle cx="331.6" cy="1107.3" r="3.1" fill="none" stroke="#8c7f6d" stroke-width="0.9"/>
<circle cx="331.2" cy="1114.7" r="3.1" fill="none" stroke="#8c7f6d" stroke-width="0.9"/>
<circle cx="331.8" cy="1110.5" r="3.1" fill="none" stroke="#8c7f6d" stroke-width="0.9"/>
<circle cx="334.6" cy="1111.5" r="3.1" fill="none" stroke="#8c7f6d" stroke-width="0.9"/>
<circle cx="339.0" cy="1113.3" r="3.1" fill="none" stroke="#8c7f6d" stroke-width="0.9"/>
<circle cx="329.2" cy="1111.8" r="3.1" fill="none" stroke="#8c7f6d" stroke-width="0.9"/>
<circle cx="345.8" cy="1113.9" r="3.1" fill="none" stroke="#8c7f6d" stroke-width="0.9"/>
<circle cx="333.8" cy="1113.0" r="3.1" fill="none" stroke="#8c7f6d" stroke-width="0.9"/>
<circle cx="340.7" cy="1119.6" r="3.1" fill="none" stroke="#8c7f6d" stroke-width="0.9"/>
<circle cx="327.2" cy="1114.0" r="3.1" fill="none" stroke="#8c7f6d" stroke-width="0.9"/>
<circle cx="331.5" cy="1106.9" r="3.1" fill="none" stroke="#8c7f6d" stroke-width="0.9"/>
<circle cx="347.2" cy="1112.7" r="3.1" fill="none" stroke="#8c7f6d" stroke-width="0.9"/>
<circle cx="340.9" cy="1119.0" r="3.1" fill="none" stroke="#8c7f6d" stroke-width="0.9"/>
<circle cx="342.4" cy="1112.6" r="3.1" fill="none" stroke="#8c7f6d" stroke-width="0.9"/>
<circle cx="339.4" cy="1117.3" r="3.1" fill="none" stroke="#8c7f6d" stroke-width="0.9"/>
<circle cx="337.6" cy="1113.3" r="3.1" fill="none" stroke="#8c7f6d" stroke-width="0.9"/>
<circle cx="327.6" cy="1111.1" r="3.1" fill="none" stroke="#8c7f6d" stroke-width="0.9"/>
<circle cx="326.2" cy="1106.0" r="3.1" fill="none" stroke="#8c7f6d" stroke-width="0.9"/>
<circle cx="328.6" cy="1117.9" r="3.1" fill="none" stroke="#8c7f6d" stroke-width="0.9"/>
<circle cx="343.8" cy="1103.6" r="3.1" fill="none" stroke="#8c7f6d" stroke-width="0.9"/>
<circle cx="335.9" cy="1112.2" r="3.1" fill="none" stroke="#8c7f6d" stroke-width="0.9"/>
<circle cx="328.8" cy="1110.8" r="3.1" fill="none" stroke="#8c7f6d" stroke-width="0.9"/>
<circle cx="305.2" cy="1038.2" r="3.1" fill="none" stroke="#8c7f6d" stroke-width="0.9"/>
<circle cx="291.4" cy="1037.4" r="3.1" fill="none" stroke="#8c7f6d" stroke-width="0.9"/>
<circle cx="306.8" cy="1042.5" r="3.1" fill="none" stroke="#8c7f6d" stroke-width="0.9"/>
<circle cx="309.8" cy="1045.5" r="3.1" fill="none" stroke="#8c7f6d" stroke-width="0.9"/>
<circle cx="316.9" cy="1064.8" r="3.1" fill="none" stroke="#8c7f6d" stroke-width="0.9"/>
<circle cx="287.5" cy="1035.2" r="3.1" fill="none" stroke="#8c7f6d" stroke-width="0.9"/>
<circle cx="294.6" cy="1029.4" r="3.1" fill="none" stroke="#8c7f6d" stroke-width="0.9"/>
<circle cx="301.2" cy="1062.3" r="3.1" fill="none" stroke="#8c7f6d" stroke-width="0.9"/>
<circle cx="318.2" cy="1034.9" r="3.1" fill="none" stroke="#8c7f6d" stroke-width="0.9"/>
<circle cx="307.5" cy="1053.4" r="3.1" fill="none" stroke="#8c7f6d" stroke-width="0.9"/>
<circle cx="312.6" cy="1041.9" r="3.1" fill="none" stroke="#8c7f6d" stroke-width="0.9"/>
<circle cx="310.3" cy="1057.7" r="3.1" fill="none" stroke="#8c7f6d" stroke-width="0.9"/>
<circle cx="302.5" cy="1038.2" r="3.1" fill="none" stroke="#8c7f6d" stroke-width="0.9"/>
<circle cx="306.8" cy="1062.9" r="3.1" fill="none" stroke="#8c7f6d" stroke-width="0.9"/>
<circle cx="294.5" cy="1029.4" r="3.1" fill="none" stroke="#8c7f6d" stroke-width="0.9"/>
<circle cx="305.7" cy="1034.0" r="3.1" fill="none" stroke="#8c7f6d" stroke-width="0.9"/>
<circle cx="287.7" cy="1030.8" r="3.1" fill="none" stroke="#8c7f6d" stroke-width="0.9"/>
<circle cx="296.4" cy="1036.8" r="3.1" fill="none" stroke="#8c7f6d" stroke-width="0.9"/>
<circle cx="315.7" cy="1036.2" r="3.1" fill="none" stroke="#8c7f6d" stroke-width="0.9"/>
<circle cx="304.5" cy="1031.5" r="3.1" fill="none" stroke="#8c7f6d" stroke-width="0.9"/>
<circle cx="314.5" cy="1047.1" r="3.1" fill="none" stroke="#8c7f6d" stroke-width="0.9"/>
<circle cx="291.1" cy="1043.9" r="3.1" fill="none" stroke="#8c7f6d" stroke-width="0.9"/>
<circle cx="318.2" cy="1042.2" r="3.1" fill="none" stroke="#8c7f6d" stroke-width="0.9"/>
<circle cx="304.3" cy="1059.1" r="3.1" fill="none" stroke="#8c7f6d" stroke-width="0.9"/>
<circle cx="299.9" cy="1045.3" r="3.1" fill="none" stroke="#8c7f6d" stroke-width="0.9"/>
<circle cx="297.7" cy="1059.0" r="3.1" fill="none" stroke="#8c7f6d" stroke-width="0.9"/>
<circle cx="313.4" cy="1050.7" r="3.1" fill="none" stroke="#8c7f6d" stroke-width="0.9"/>
<circle cx="300.4" cy="1038.6" r="3.1" fill="none" stroke="#8c7f6d" stroke-width="0.9"/>
<circle cx="286.0" cy="1055.1" r="3.1" fill="none" stroke="#8c7f6d" stroke-width="0.9"/>
<circle cx="294.0" cy="1030.9" r="3.1" fill="none" stroke="#8c7f6d" stroke-width="0.9"/>
<circle cx="286.6" cy="1059.3" r="3.1" fill="none" stroke="#8c7f6d" stroke-width="0.9"/>
<circle cx="320.4" cy="1052.2" r="3.1" fill="none" stroke="#8c7f6d" stroke-width="0.9"/>
<circle cx="295.1" cy="1034.2" r="3.1" fill="none" stroke="#8c7f6d" stroke-width="0.9"/>
<circle cx="295.6" cy="1043.3" r="3.1" fill="none" stroke="#8c7f6d" stroke-width="0.9"/>
<circle cx="289.8" cy="1042.7" r="3.1" fill="none" stroke="#8c7f6d" stroke-width="0.9"/>
<circle cx="324.8" cy="1047.0" r="3.1" fill="none" stroke="#8c7f6d" stroke-width="0.9"/>
<circle cx="296.3" cy="1039.0" r="3.1" fill="none" stroke="#8c7f6d" stroke-width="0.9"/>
<circle cx="303.4" cy="1045.1" r="3.1" fill="none" stroke="#8c7f6d" stroke-width="0.9"/>
<circle cx="291.6" cy="1045.2" r="3.1" fill="none" stroke="#8c7f6d" stroke-width="0.9"/>
<circle cx="286.9" cy="1040.8" r="3.1" fill="none" stroke="#8c7f6d" stroke-width="0.9"/>
<circle cx="296.1" cy="1033.8" r="3.1" fill="none" stroke="#8c7f6d" stroke-width="0.9"/>
<circle cx="308.2" cy="1046.2" r="3.1" fill="none" stroke="#8c7f6d" stroke-width="0.9"/>
<circle cx="315.3" cy="1051.6" r="3.1" fill="none" stroke="#8c7f6d" stroke-width="0.9"/>
<circle cx="313.8" cy="1060.9" r="3.1" fill="none" stroke="#8c7f6d" stroke-width="0.9"/>
<circle cx="299.7" cy="1037.7" r="3.1" fill="none" stroke="#8c7f6d" stroke-width="0.9"/>
<circle cx="314.1" cy="1051.0" r="3.1" fill="none" stroke="#8c7f6d" stroke-width="0.9"/>
<circle cx="321.4" cy="1050.3" r="3.1" fill="none" stroke="#8c7f6d" stroke-width="0.9"/>
<circle cx="314.6" cy="1058.1" r="3.1" fill="none" stroke="#8c7f6d" stroke-width="0.9"/>
<circle cx="289.0" cy="1046.0" r="3.1" fill="none" stroke="#8c7f6d" stroke-width="0.9"/>
<circle cx="304.7" cy="1059.1" r="3.1" fill="none" stroke="#8c7f6d" stroke-width="0.9"/>
<circle cx="317.6" cy="1058.7" r="3.1" fill="none" stroke="#8c7f6d" stroke-width="0.9"/>
<circle cx="308.1" cy="1061.5" r="3.1" fill="none" stroke="#8c7f6d" stroke-width="0.9"/>
<circle cx="312.4" cy="1053.1" r="3.1" fill="none" stroke="#8c7f6d" stroke-width="0.9"/>
<circle cx="288.7" cy="1039.1" r="3.1" fill="none" stroke="#8c7f6d" stroke-width="0.9"/>
<circle cx="287.5" cy="1059.1" r="3.1" fill="none" stroke="#8c7f6d" stroke-width="0.9"/>
<circle cx="307.0" cy="1050.4" r="3.1" fill="none" stroke="#8c7f6d" stroke-width="0.9"/>
<circle cx="309.9" cy="1052.6" r="3.1" fill="none" stroke="#8c7f6d" stroke-width="0.9"/>
<circle cx="317.3" cy="1055.4" r="3.1" fill="none" stroke="#8c7f6d" stroke-width="0.9"/>
<circle cx="304.6" cy="1046.5" r="3.1" fill="none" stroke="#8c7f6d" stroke-width="0.9"/>
<circle cx="311.3" cy="1026.8" r="3.1" fill="none" stroke="#8c7f6d" stroke-width="0.9"/>
<circle cx="296.0" cy="1072.8" r="3.1" fill="none" stroke="#8c7f6d" stroke-width="0.9"/>
<circle cx="283.4" cy="1073.4" r="3.1" fill="none" stroke="#8c7f6d" stroke-width="0.9"/>
<circle cx="295.9" cy="1070.8" r="3.1" fill="none" stroke="#8c7f6d" stroke-width="0.9"/>
<circle cx="291.4" cy="1078.5" r="3.1" fill="none" stroke="#8c7f6d" stroke-width="0.9"/>
<circle cx="291.1" cy="1091.4" r="3.1" fill="none" stroke="#8c7f6d" stroke-width="0.9"/>
<circle cx="296.6" cy="1088.5" r="3.1" fill="none" stroke="#8c7f6d" stroke-width="0.9"/>
<circle cx="294.2" cy="1065.3" r="3.1" fill="none" stroke="#8c7f6d" stroke-width="0.9"/>
<circle cx="284.8" cy="1072.9" r="3.1" fill="none" stroke="#8c7f6d" stroke-width="0.9"/>
<circle cx="296.1" cy="1075.1" r="3.1" fill="none" stroke="#8c7f6d" stroke-width="0.9"/>
<circle cx="283.2" cy="1073.6" r="3.1" fill="none" stroke="#8c7f6d" stroke-width="0.9"/>
<circle cx="294.8" cy="1091.8" r="3.1" fill="none" stroke="#8c7f6d" stroke-width="0.9"/>
<circle cx="294.8" cy="1074.5" r="3.1" fill="none" stroke="#8c7f6d" stroke-width="0.9"/>
<circle cx="291.8" cy="1082.0" r="3.1" fill="none" stroke="#8c7f6d" stroke-width="0.9"/>
<circle cx="290.9" cy="1067.1" r="3.1" fill="none" stroke="#8c7f6d" stroke-width="0.9"/>
<circle cx="299.0" cy="1070.6" r="3.1" fill="none" stroke="#8c7f6d" stroke-width="0.9"/>
<circle cx="290.5" cy="1073.6" r="3.1" fill="none" stroke="#8c7f6d" stroke-width="0.9"/>
<circle cx="297.6" cy="1083.9" r="3.1" fill="none" stroke="#8c7f6d" stroke-width="0.9"/>
<circle cx="298.9" cy="1092.2" r="3.1" fill="none" stroke="#8c7f6d" stroke-width="0.9"/>
<circle cx="291.2" cy="1063.1" r="3.1" fill="none" stroke="#8c7f6d" stroke-width="0.9"/>
<circle cx="290.6" cy="1075.0" r="3.1" fill="none" stroke="#8c7f6d" stroke-width="0.9"/>
<circle cx="284.7" cy="1076.8" r="3.1" fill="none" stroke="#8c7f6d" stroke-width="0.9"/>
<circle cx="297.9" cy="1067.2" r="3.1" fill="none" stroke="#8c7f6d" stroke-width="0.9"/>
<circle cx="299.6" cy="1092.7" r="3.1" fill="none" stroke="#8c7f6d" stroke-width="0.9"/>
<circle cx="299.1" cy="1074.5" r="3.1" fill="none" stroke="#8c7f6d" stroke-width="0.9"/>
<circle cx="289.1" cy="1078.9" r="3.1" fill="none" stroke="#8c7f6d" stroke-width="0.9"/>
<circle cx="288.9" cy="1080.4" r="3.1" fill="none" stroke="#8c7f6d" stroke-width="0.9"/>
<circle cx="287.2" cy="1064.1" r="3.1" fill="none" stroke="#8c7f6d" stroke-width="0.9"/>
<circle cx="286.7" cy="1073.4" r="3.1" fill="none" stroke="#8c7f6d" stroke-width="0.9"/>
<circle cx="313.8" cy="1061.0" r="3.1" fill="none" stroke="#8c7f6d" stroke-width="0.9"/>
<circle cx="310.1" cy="1073.3" r="3.1" fill="none" stroke="#8c7f6d" stroke-width="0.9"/>
<circle cx="323.9" cy="1071.0" r="3.1" fill="none" stroke="#8c7f6d" stroke-width="0.9"/>
<circle cx="317.0" cy="1072.6" r="3.1" fill="none" stroke="#8c7f6d" stroke-width="0.9"/>
<circle cx="325.4" cy="1066.8" r="3.1" fill="none" stroke="#8c7f6d" stroke-width="0.9"/>
<circle cx="319.4" cy="1058.8" r="3.1" fill="none" stroke="#8c7f6d" stroke-width="0.9"/>
<circle cx="319.8" cy="1065.2" r="3.1" fill="none" stroke="#8c7f6d" stroke-width="0.9"/>
<circle cx="320.3" cy="1068.3" r="3.1" fill="none" stroke="#8c7f6d" stroke-width="0.9"/>
<circle cx="307.7" cy="1058.8" r="3.1" fill="none" stroke="#8c7f6d" stroke-width="0.9"/>
<circle cx="325.0" cy="1060.0" r="3.1" fill="none" stroke="#8c7f6d" stroke-width="0.9"/>
<circle cx="312.7" cy="1063.5" r="3.1" fill="none" stroke="#8c7f6d" stroke-width="0.9"/>
<circle cx="308.0" cy="1069.8" r="3.1" fill="none" stroke="#8c7f6d" stroke-width="0.9"/>
<circle cx="317.7" cy="1062.8" r="3.1" fill="none" stroke="#8c7f6d" stroke-width="0.9"/>
<circle cx="315.0" cy="1064.3" r="3.1" fill="none" stroke="#8c7f6d" stroke-width="0.9"/>
<circle cx="304.5" cy="1060.6" r="3.1" fill="none" stroke="#8c7f6d" stroke-width="0.9"/>
<circle cx="305.6" cy="1072.5" r="3.1" fill="none" stroke="#8c7f6d" stroke-width="0.9"/>
<circle cx="313.4" cy="1061.5" r="3.1" fill="none" stroke="#8c7f6d" stroke-width="0.9"/>
<circle cx="312.1" cy="1060.2" r="3.1" fill="none" stroke="#8c7f6d" stroke-width="0.9"/>
<circle cx="305.2" cy="1059.5" r="3.1" fill="none" stroke="#8c7f6d" stroke-width="0.9"/>
<circle cx="309.2" cy="1059.5" r="3.1" fill="none" stroke="#8c7f6d" stroke-width="0.9"/>
<circle cx="306.5" cy="1062.1" r="3.1" fill="none" stroke="#8c7f6d" stroke-width="0.9"/>
<circle cx="315.4" cy="1072.2" r="3.1" fill="none" stroke="#8c7f6d" stroke-width="0.9"/>
<circle cx="320.2" cy="1064.6" r="3.1" fill="none" stroke="#8c7f6d" stroke-width="0.9"/>
<circle cx="311.2" cy="1066.4" r="3.1" fill="none" stroke="#8c7f6d" stroke-width="0.9"/>
<circle cx="310.2" cy="1063.4" r="3.1" fill="none" stroke="#8c7f6d" stroke-width="0.9"/>
<circle cx="301.7" cy="1062.4" r="3.1" fill="none" stroke="#8c7f6d" stroke-width="0.9"/>
<circle cx="313.6" cy="1068.1" r="3.1" fill="none" stroke="#8c7f6d" stroke-width="0.9"/>
<circle cx="323.3" cy="1061.5" r="3.1" fill="none" stroke="#8c7f6d" stroke-width="0.9"/>
<circle cx="307.3" cy="1062.0" r="3.1" fill="none" stroke="#8c7f6d" stroke-width="0.9"/>
<circle cx="310.8" cy="1065.1" r="3.1" fill="none" stroke="#8c7f6d" stroke-width="0.9"/>
<circle cx="369.2" cy="1092.8" r="3.1" fill="none" stroke="#8c7f6d" stroke-width="0.9"/>
<circle cx="355.8" cy="1106.3" r="3.1" fill="none" stroke="#8c7f6d" stroke-width="0.9"/>
<circle cx="360.3" cy="1111.7" r="3.1" fill="none" stroke="#8c7f6d" stroke-width="0.9"/>
<circle cx="353.5" cy="1097.8" r="3.1" fill="none" stroke="#8c7f6d" stroke-width="0.9"/>
<circle cx="345.4" cy="1121.8" r="3.1" fill="none" stroke="#8c7f6d" stroke-width="0.9"/>
<circle cx="360.2" cy="1081.7" r="3.1" fill="none" stroke="#8c7f6d" stroke-width="0.9"/>
<circle cx="359.9" cy="1107.4" r="3.1" fill="none" stroke="#8c7f6d" stroke-width="0.9"/>
<circle cx="355.9" cy="1099.9" r="3.1" fill="none" stroke="#8c7f6d" stroke-width="0.9"/>
<circle cx="351.0" cy="1076.5" r="3.1" fill="none" stroke="#8c7f6d" stroke-width="0.9"/>
<circle cx="347.9" cy="1091.9" r="3.1" fill="none" stroke="#8c7f6d" stroke-width="0.9"/>
<circle cx="368.8" cy="1092.9" r="3.1" fill="none" stroke="#8c7f6d" stroke-width="0.9"/>
<circle cx="345.5" cy="1078.1" r="3.1" fill="none" stroke="#8c7f6d" stroke-width="0.9"/>
<circle cx="354.9" cy="1105.8" r="3.1" fill="none" stroke="#8c7f6d" stroke-width="0.9"/>
<circle cx="352.1" cy="1078.7" r="3.1" fill="none" stroke="#8c7f6d" stroke-width="0.9"/>
<circle cx="349.2" cy="1089.3" r="3.1" fill="none" stroke="#8c7f6d" stroke-width="0.9"/>
<circle cx="361.6" cy="1074.9" r="3.1" fill="none" stroke="#8c7f6d" stroke-width="0.9"/>
<circle cx="355.2" cy="1075.3" r="3.1" fill="none" stroke="#8c7f6d" stroke-width="0.9"/>
<circle cx="366.5" cy="1077.0" r="3.1" fill="none" stroke="#8c7f6d" stroke-width="0.9"/>
<circle cx="345.0" cy="1111.4" r="3.1" fill="none" stroke="#8c7f6d" stroke-width="0.9"/>
<circle cx="354.8" cy="1074.2" r="3.1" fill="none" stroke="#8c7f6d" stroke-width="0.9"/>
<circle cx="345.0" cy="1089.1" r="3.1" fill="none" stroke="#8c7f6d" stroke-width="0.9"/>
<circle cx="342.3" cy="1087.6" r="3.1" fill="none" stroke="#8c7f6d" stroke-width="0.9"/>
<circle cx="343.7" cy="1122.8" r="3.1" fill="none" stroke="#8c7f6d" stroke-width="0.9"/>
<circle cx="360.9" cy="1086.6" r="3.1" fill="none" stroke="#8c7f6d" stroke-width="0.9"/>
<circle cx="350.5" cy="1083.6" r="3.1" fill="none" stroke="#8c7f6d" stroke-width="0.9"/>
<circle cx="347.1" cy="1084.8" r="3.1" fill="none" stroke="#8c7f6d" stroke-width="0.9"/>
<circle cx="349.8" cy="1115.4" r="3.1" fill="none" stroke="#8c7f6d" stroke-width="0.9"/>
<circle cx="366.6" cy="1090.1" r="3.1" fill="none" stroke="#8c7f6d" stroke-width="0.9"/>
<circle cx="343.9" cy="1085.7" r="3.1" fill="none" stroke="#8c7f6d" stroke-width="0.9"/>
<circle cx="351.8" cy="1114.8" r="3.1" fill="none" stroke="#8c7f6d" stroke-width="0.9"/>
<circle cx="349.2" cy="1079.7" r="3.1" fill="none" stroke="#8c7f6d" stroke-width="0.9"/>
<circle cx="346.4" cy="1108.6" r="3.1" fill="none" stroke="#8c7f6d" stroke-width="0.9"/>
<circle cx="348.4" cy="1079.9" r="3.1" fill="none" stroke="#8c7f6d" stroke-width="0.9"/>
<circle cx="345.4" cy="1092.9" r="3.1" fill="none" stroke="#8c7f6d" stroke-width="0.9"/>
<circle cx="350.9" cy="1078.3" r="3.1" fill="none" stroke="#8c7f6d" stroke-width="0.9"/>
<circle cx="352.5" cy="1094.1" r="3.1" fill="none" stroke="#8c7f6d" stroke-width="0.9"/>
<circle cx="358.9" cy="1083.3" r="3.1" fill="none" stroke="#8c7f6d" stroke-width="0.9"/>
<circle cx="348.5" cy="1085.5" r="3.1" fill="none" stroke="#8c7f6d" stroke-width="0.9"/>
<circle cx="365.2" cy="1067.1" r="3.1" fill="none" stroke="#8c7f6d" stroke-width="0.9"/>
<circle cx="344.1" cy="1110.9" r="3.1" fill="none" stroke="#8c7f6d" stroke-width="0.9"/>
<circle cx="362.6" cy="1091.1" r="3.1" fill="none" stroke="#8c7f6d" stroke-width="0.9"/>
<circle cx="345.4" cy="1089.1" r="3.1" fill="none" stroke="#8c7f6d" stroke-width="0.9"/>
<circle cx="359.3" cy="1105.8" r="3.1" fill="none" stroke="#8c7f6d" stroke-width="0.9"/>
<circle cx="360.9" cy="1069.9" r="3.1" fill="none" stroke="#8c7f6d" stroke-width="0.9"/>
<circle cx="367.3" cy="1081.1" r="3.1" fill="none" stroke="#8c7f6d" stroke-width="0.9"/>
<circle cx="357.4" cy="1086.2" r="3.1" fill="none" stroke="#8c7f6d" stroke-width="0.9"/>
<circle cx="363.6" cy="1074.9" r="3.1" fill="none" stroke="#8c7f6d" stroke-width="0.9"/>
<circle cx="345.9" cy="1077.9" r="3.1" fill="none" stroke="#8c7f6d" stroke-width="0.9"/>
<circle cx="342.5" cy="1119.5" r="3.1" fill="none" stroke="#8c7f6d" stroke-width="0.9"/>
<circle cx="357.8" cy="1083.2" r="3.1" fill="none" stroke="#8c7f6d" stroke-width="0.9"/>
<circle cx="355.3" cy="1077.0" r="3.1" fill="none" stroke="#8c7f6d" stroke-width="0.9"/>
<circle cx="366.1" cy="1104.5" r="3.1" fill="none" stroke="#8c7f6d" stroke-width="0.9"/>
<circle cx="354.1" cy="1115.2" r="3.1" fill="none" stroke="#8c7f6d" stroke-width="0.9"/>
<circle cx="368.2" cy="1091.2" r="3.1" fill="none" stroke="#8c7f6d" stroke-width="0.9"/>
<circle cx="346.4" cy="1112.6" r="3.1" fill="none" stroke="#8c7f6d" stroke-width="0.9"/>
<circle cx="358.5" cy="1102.3" r="3.1" fill="none" stroke="#8c7f6d" stroke-width="0.9"/>
<circle cx="344.8" cy="1086.0" r="3.1" fill="none" stroke="#8c7f6d" stroke-width="0.9"/>
<circle cx="346.2" cy="1101.0" r="3.1" fill="none" stroke="#8c7f6d" stroke-width="0.9"/>
<circle cx="360.5" cy="1075.2" r="3.1" fill="none" stroke="#8c7f6d" stroke-width="0.9"/>
<circle cx="361.4" cy="1074.0" r="3.1" fill="none" stroke="#8c7f6d" stroke-width="0.9"/>
<circle cx="348.2" cy="1075.2" r="3.1" fill="none" stroke="#8c7f6d" stroke-width="0.9"/>
<circle cx="365.6" cy="1097.6" r="3.1" fill="none" stroke="#8c7f6d" stroke-width="0.9"/>
<circle cx="351.2" cy="1097.8" r="3.1" fill="none" stroke="#8c7f6d" stroke-width="0.9"/>
<circle cx="360.0" cy="1067.9" r="3.1" fill="none" stroke="#8c7f6d" stroke-width="0.9"/>
<circle cx="342.9" cy="1107.2" r="3.1" fill="none" stroke="#8c7f6d" stroke-width="0.9"/>
<circle cx="351.8" cy="1080.4" r="3.1" fill="none" stroke="#8c7f6d" stroke-width="0.9"/>
<circle cx="348.2" cy="1098.8" r="3.1" fill="none" stroke="#8c7f6d" stroke-width="0.9"/>
<circle cx="349.9" cy="1089.1" r="3.1" fill="none" stroke="#8c7f6d" stroke-width="0.9"/>
<circle cx="350.1" cy="1074.8" r="3.1" fill="none" stroke="#8c7f6d" stroke-width="0.9"/>
<circle cx="363.2" cy="1075.2" r="3.1" fill="none" stroke="#8c7f6d" stroke-width="0.9"/>
<circle cx="320.1" cy="1078.2" r="3.1" fill="none" stroke="#8c7f6d" stroke-width="0.9"/>
<circle cx="316.0" cy="1097.5" r="3.1" fill="none" stroke="#8c7f6d" stroke-width="0.9"/>
<circle cx="305.6" cy="1085.0" r="3.1" fill="none" stroke="#8c7f6d" stroke-width="0.9"/>
<circle cx="307.9" cy="1076.2" r="3.1" fill="none" stroke="#8c7f6d" stroke-width="0.9"/>
<circle cx="321.2" cy="1072.0" r="3.1" fill="none" stroke="#8c7f6d" stroke-width="0.9"/>
<circle cx="308.9" cy="1091.6" r="3.1" fill="none" stroke="#8c7f6d" stroke-width="0.9"/>
<circle cx="322.8" cy="1090.7" r="3.1" fill="none" stroke="#8c7f6d" stroke-width="0.9"/>
<circle cx="304.5" cy="1083.0" r="3.1" fill="none" stroke="#8c7f6d" stroke-width="0.9"/>
<circle cx="332.4" cy="1119.7" r="3.1" fill="none" stroke="#8c7f6d" stroke-width="0.9"/>
<circle cx="326.6" cy="1100.1" r="3.1" fill="none" stroke="#8c7f6d" stroke-width="0.9"/>
<circle cx="318.2" cy="1101.9" r="3.1" fill="none" stroke="#8c7f6d" stroke-width="0.9"/>
<circle cx="318.5" cy="1106.2" r="3.1" fill="none" stroke="#8c7f6d" stroke-width="0.9"/>
<circle cx="319.5" cy="1093.8" r="3.1" fill="none" stroke="#8c7f6d" stroke-width="0.9"/>
<circle cx="321.5" cy="1082.3" r="3.1" fill="none" stroke="#8c7f6d" stroke-width="0.9"/>
<circle cx="334.2" cy="1113.1" r="3.1" fill="none" stroke="#8c7f6d" stroke-width="0.9"/>
<circle cx="320.0" cy="1079.1" r="3.1" fill="none" stroke="#8c7f6d" stroke-width="0.9"/>
<circle cx="320.7" cy="1075.0" r="3.1" fill="none" stroke="#8c7f6d" stroke-width="0.9"/>
<circle cx="304.7" cy="1093.3" r="3.1" fill="none" stroke="#8c7f6d" stroke-width="0.9"/>
<circle cx="332.8" cy="1112.9" r="3.1" fill="none" stroke="#8c7f6d" stroke-width="0.9"/>
<circle cx="322.5" cy="1072.1" r="3.1" fill="none" stroke="#8c7f6d" stroke-width="0.9"/>
<circle cx="322.1" cy="1090.3" r="3.1" fill="none" stroke="#8c7f6d" stroke-width="0.9"/>
<circle cx="332.7" cy="1115.0" r="3.1" fill="none" stroke="#8c7f6d" stroke-width="0.9"/>
<circle cx="335.3" cy="1121.6" r="3.1" fill="none" stroke="#8c7f6d" stroke-width="0.9"/>
<circle cx="301.8" cy="1088.8" r="3.1" fill="none" stroke="#8c7f6d" stroke-width="0.9"/>
<circle cx="308.4" cy="1083.9" r="3.1" fill="none" stroke="#8c7f6d" stroke-width="0.9"/>
<circle cx="322.2" cy="1087.0" r="3.1" fill="none" stroke="#8c7f6d" stroke-width="0.9"/>
<circle cx="319.3" cy="1079.0" r="3.1" fill="none" stroke="#8c7f6d" stroke-width="0.9"/>
<circle cx="325.9" cy="1106.5" r="3.1" fill="none" stroke="#8c7f6d" stroke-width="0.9"/>
<circle cx="327.3" cy="1093.4" r="3.1" fill="none" stroke="#8c7f6d" stroke-width="0.9"/>
<circle cx="304.9" cy="1081.8" r="3.1" fill="none" stroke="#8c7f6d" stroke-width="0.9"/>
<circle cx="303.7" cy="1089.2" r="3.1" fill="none" stroke="#8c7f6d" stroke-width="0.9"/>
<circle cx="327.7" cy="1095.8" r="3.1" fill="none" stroke="#8c7f6d" stroke-width="0.9"/>
<circle cx="310.1" cy="1077.4" r="3.1" fill="none" stroke="#8c7f6d" stroke-width="0.9"/>
<circle cx="317.4" cy="1083.9" r="3.1" fill="none" stroke="#8c7f6d" stroke-width="0.9"/>
<circle cx="324.8" cy="1088.8" r="3.1" fill="none" stroke="#8c7f6d" stroke-width="0.9"/>
<circle cx="317.6" cy="1082.4" r="3.1" fill="none" stroke="#8c7f6d" stroke-width="0.9"/>
<circle cx="322.3" cy="1105.2" r="3.1" fill="none" stroke="#8c7f6d" stroke-width="0.9"/>
<circle cx="313.1" cy="1086.0" r="3.1" fill="none" stroke="#8c7f6d" stroke-width="0.9"/>
<circle cx="309.3" cy="1074.9" r="3.1" fill="none" stroke="#8c7f6d" stroke-width="0.9"/>
<circle cx="331.0" cy="1116.8" r="3.1" fill="none" stroke="#8c7f6d" stroke-width="0.9"/>
<circle cx="324.4" cy="1093.6" r="3.1" fill="none" stroke="#8c7f6d" stroke-width="0.9"/>
<circle cx="310.9" cy="1082.3" r="3.1" fill="none" stroke="#8c7f6d" stroke-width="0.9"/>
<circle cx="328.0" cy="1108.1" r="3.1" fill="none" stroke="#8c7f6d" stroke-width="0.9"/>
<circle cx="331.1" cy="1117.5" r="3.1" fill="none" stroke="#8c7f6d" stroke-width="0.9"/>
<circle cx="319.0" cy="1109.9" r="3.1" fill="none" stroke="#8c7f6d" stroke-width="0.9"/>
<circle cx="325.2" cy="1086.4" r="3.1" fill="none" stroke="#8c7f6d" stroke-width="0.9"/>
<circle cx="314.8" cy="1077.0" r="3.1" fill="none" stroke="#8c7f6d" stroke-width="0.9"/>
<circle cx="331.1" cy="1110.6" r="3.1" fill="none" stroke="#8c7f6d" stroke-width="0.9"/>
<circle cx="336.7" cy="1119.4" r="3.1" fill="none" stroke="#8c7f6d" stroke-width="0.9"/>
<circle cx="303.8" cy="1080.6" r="3.1" fill="none" stroke="#8c7f6d" stroke-width="0.9"/>
<circle cx="328.2" cy="1115.6" r="3.1" fill="none" stroke="#8c7f6d" stroke-width="0.9"/>
<circle cx="303.4" cy="1074.5" r="3.1" fill="none" stroke="#8c7f6d" stroke-width="0.9"/>
<circle cx="313.6" cy="1092.9" r="3.1" fill="none" stroke="#8c7f6d" stroke-width="0.9"/>
<circle cx="315.8" cy="1087.1" r="3.1" fill="none" stroke="#8c7f6d" stroke-width="0.9"/>
<circle cx="323.7" cy="1081.2" r="3.1" fill="none" stroke="#8c7f6d" stroke-width="0.9"/>
<circle cx="307.3" cy="1096.9" r="3.1" fill="none" stroke="#8c7f6d" stroke-width="0.9"/>
<circle cx="311.9" cy="1081.1" r="3.1" fill="none" stroke="#8c7f6d" stroke-width="0.9"/>
<circle cx="331.1" cy="1113.5" r="3.1" fill="none" stroke="#8c7f6d" stroke-width="0.9"/>
<circle cx="317.4" cy="1091.3" r="3.1" fill="none" stroke="#8c7f6d" stroke-width="0.9"/>
<circle cx="308.3" cy="1083.9" r="3.1" fill="none" stroke="#8c7f6d" stroke-width="0.9"/>
<circle cx="309.6" cy="1095.0" r="3.1" fill="none" stroke="#8c7f6d" stroke-width="0.9"/>
<circle cx="323.4" cy="1111.6" r="3.1" fill="none" stroke="#8c7f6d" stroke-width="0.9"/>
<circle cx="314.9" cy="1087.5" r="3.1" fill="none" stroke="#8c7f6d" stroke-width="0.9"/>
<circle cx="329.5" cy="1110.9" r="3.1" fill="none" stroke="#8c7f6d" stroke-width="0.9"/>
<circle cx="306.7" cy="1093.8" r="3.1" fill="none" stroke="#8c7f6d" stroke-width="0.9"/>
<circle cx="304.6" cy="1095.1" r="3.1" fill="none" stroke="#8c7f6d" stroke-width="0.9"/>
<circle cx="307.7" cy="1086.0" r="3.1" fill="none" stroke="#8c7f6d" stroke-width="0.9"/>
<circle cx="331.4" cy="1116.7" r="3.1" fill="none" stroke="#8c7f6d" stroke-width="0.9"/>
<circle cx="306.0" cy="1077.8" r="3.1" fill="none" stroke="#8c7f6d" stroke-width="0.9"/>
<circle cx="310.3" cy="1087.5" r="3.1" fill="none" stroke="#8c7f6d" stroke-width="0.9"/>
<circle cx="323.0" cy="1078.1" r="3.1" fill="none" stroke="#8c7f6d" stroke-width="0.9"/>
<circle cx="314.0" cy="1079.7" r="3.1" fill="none" stroke="#8c7f6d" stroke-width="0.9"/>
<circle cx="303.5" cy="1090.7" r="3.1" fill="none" stroke="#8c7f6d" stroke-width="0.9"/>
<circle cx="303.7" cy="1080.7" r="3.1" fill="none" stroke="#8c7f6d" stroke-width="0.9"/>
<circle cx="328.1" cy="1095.2" r="3.1" fill="none" stroke="#8c7f6d" stroke-width="0.9"/>
<circle cx="325.4" cy="1111.3" r="3.1" fill="none" stroke="#8c7f6d" stroke-width="0.9"/>
<circle cx="318.3" cy="1081.9" r="3.1" fill="none" stroke="#8c7f6d" stroke-width="0.9"/>
<circle cx="332.2" cy="1118.7" r="3.1" fill="none" stroke="#8c7f6d" stroke-width="0.9"/>
<circle cx="313.3" cy="1104.5" r="3.1" fill="none" stroke="#8c7f6d" stroke-width="0.9"/>
<circle cx="303.3" cy="1092.7" r="3.1" fill="none" stroke="#8c7f6d" stroke-width="0.9"/>
<circle cx="318.4" cy="1094.7" r="3.1" fill="none" stroke="#8c7f6d" stroke-width="0.9"/>
<circle cx="327.6" cy="1092.1" r="3.1" fill="none" stroke="#8c7f6d" stroke-width="0.9"/>
<circle cx="323.8" cy="1109.5" r="3.1" fill="none" stroke="#8c7f6d" stroke-width="0.9"/>
<circle cx="322.5" cy="1105.1" r="3.1" fill="none" stroke="#8c7f6d" stroke-width="0.9"/>
<circle cx="315.3" cy="1072.2" r="3.1" fill="none" stroke="#8c7f6d" stroke-width="0.9"/>
<circle cx="311.5" cy="1091.6" r="3.1" fill="none" stroke="#8c7f6d" stroke-width="0.9"/>
<circle cx="318.3" cy="1108.5" r="3.1" fill="none" stroke="#8c7f6d" stroke-width="0.9"/>
<circle cx="315.1" cy="1084.0" r="3.1" fill="none" stroke="#8c7f6d" stroke-width="0.9"/>
<circle cx="316.9" cy="1081.0" r="3.1" fill="none" stroke="#8c7f6d" stroke-width="0.9"/>
<circle cx="320.5" cy="1100.8" r="3.1" fill="none" stroke="#8c7f6d" stroke-width="0.9"/>
<circle cx="315.1" cy="1105.1" r="3.1" fill="none" stroke="#8c7f6d" stroke-width="0.9"/>
<circle cx="336.7" cy="1115.1" r="3.1" fill="none" stroke="#8c7f6d" stroke-width="0.9"/>
<circle cx="320.5" cy="1085.6" r="3.1" fill="none" stroke="#8c7f6d" stroke-width="0.9"/>
<circle cx="324.2" cy="1076.1" r="3.1" fill="none" stroke="#8c7f6d" stroke-width="0.9"/>
<circle cx="316.2" cy="1083.3" r="3.1" fill="none" stroke="#8c7f6d" stroke-width="0.9"/>
<circle cx="318.5" cy="1079.5" r="3.1" fill="none" stroke="#8c7f6d" stroke-width="0.9"/>
<circle cx="311.8" cy="1082.8" r="3.1" fill="none" stroke="#8c7f6d" stroke-width="0.9"/>
<circle cx="312.8" cy="1096.1" r="3.1" fill="none" stroke="#8c7f6d" stroke-width="0.9"/>
<circle cx="318.6" cy="1105.0" r="3.1" fill="none" stroke="#8c7f6d" stroke-width="0.9"/>
<circle cx="303.5" cy="1077.1" r="3.1" fill="none" stroke="#8c7f6d" stroke-width="0.9"/>
<circle cx="314.8" cy="1077.6" r="3.1" fill="none" stroke="#8c7f6d" stroke-width="0.9"/>
<circle cx="327.0" cy="1113.1" r="3.1" fill="none" stroke="#8c7f6d" stroke-width="0.9"/>
<circle cx="335.3" cy="1116.4" r="3.1" fill="none" stroke="#8c7f6d" stroke-width="0.9"/>
<circle cx="323.4" cy="1110.9" r="3.1" fill="none" stroke="#8c7f6d" stroke-width="0.9"/>
<circle cx="324.5" cy="1083.9" r="3.1" fill="none" stroke="#8c7f6d" stroke-width="0.9"/>
<circle cx="309.6" cy="1076.9" r="3.1" fill="none" stroke="#8c7f6d" stroke-width="0.9"/>
<circle cx="321.6" cy="1072.3" r="3.1" fill="none" stroke="#8c7f6d" stroke-width="0.9"/>
<circle cx="320.4" cy="1077.2" r="3.1" fill="none" stroke="#8c7f6d" stroke-width="0.9"/>
<circle cx="321.6" cy="1097.1" r="3.1" fill="none" stroke="#8c7f6d" stroke-width="0.9"/>
<circle cx="320.5" cy="1100.8" r="3.1" fill="none" stroke="#8c7f6d" stroke-width="0.9"/>
<circle cx="329.6" cy="1116.5" r="3.1" fill="none" stroke="#8c7f6d" stroke-width="0.9"/>
<circle cx="316.2" cy="1092.7" r="3.1" fill="none" stroke="#8c7f6d" stroke-width="0.9"/>
<circle cx="328.3" cy="1104.9" r="3.1" fill="none" stroke="#8c7f6d" stroke-width="0.9"/>
<circle cx="322.4" cy="1096.4" r="3.1" fill="none" stroke="#8c7f6d" stroke-width="0.9"/>
<circle cx="315.8" cy="1095.8" r="3.1" fill="none" stroke="#8c7f6d" stroke-width="0.9"/>
<circle cx="323.1" cy="1112.5" r="3.1" fill="none" stroke="#8c7f6d" stroke-width="0.9"/>
<circle cx="308.6" cy="1093.6" r="3.1" fill="none" stroke="#8c7f6d" stroke-width="0.9"/>
<circle cx="318.4" cy="1100.3" r="3.1" fill="none" stroke="#8c7f6d" stroke-width="0.9"/>
<circle cx="322.1" cy="1084.4" r="3.1" fill="none" stroke="#8c7f6d" stroke-width="0.9"/>
<circle cx="329.1" cy="1113.7" r="3.1" fill="none" stroke="#8c7f6d" stroke-width="0.9"/>
<circle cx="314.1" cy="1086.9" r="3.1" fill="none" stroke="#8c7f6d" stroke-width="0.9"/>
<circle cx="312.7" cy="1102.1" r="3.1" fill="none" stroke="#8c7f6d" stroke-width="0.9"/>
<circle cx="328.2" cy="1113.3" r="3.1" fill="none" stroke="#8c7f6d" stroke-width="0.9"/>
<circle cx="329.3" cy="1113.6" r="3.1" fill="none" stroke="#8c7f6d" stroke-width="0.9"/>
<circle cx="327.4" cy="1104.4" r="3.1" fill="none" stroke="#8c7f6d" stroke-width="0.9"/>
<circle cx="334.7" cy="1120.6" r="3.1" fill="none" stroke="#8c7f6d" stroke-width="0.9"/>
<circle cx="324.8" cy="1083.6" r="3.1" fill="none" stroke="#8c7f6d" stroke-width="0.9"/>
<circle cx="312.8" cy="1092.8" r="3.1" fill="none" stroke="#8c7f6d" stroke-width="0.9"/>
<circle cx="313.5" cy="1093.3" r="3.1" fill="none" stroke="#8c7f6d" stroke-width="0.9"/>
<circle cx="317.9" cy="1074.8" r="3.1" fill="none" stroke="#8c7f6d" stroke-width="0.9"/>
<circle cx="331.8" cy="1117.3" r="3.1" fill="none" stroke="#8c7f6d" stroke-width="0.9"/>
<circle cx="327.9" cy="1109.1" r="3.1" fill="none" stroke="#8c7f6d" stroke-width="0.9"/>
<circle cx="321.3" cy="1072.4" r="3.1" fill="none" stroke="#8c7f6d" stroke-width="0.9"/>
<circle cx="315.8" cy="1101.5" r="3.1" fill="none" stroke="#8c7f6d" stroke-width="0.9"/>
<circle cx="319.1" cy="1107.2" r="3.1" fill="none" stroke="#8c7f6d" stroke-width="0.9"/>
<circle cx="315.6" cy="1105.4" r="3.1" fill="none" stroke="#8c7f6d" stroke-width="0.9"/>
<circle cx="325.0" cy="1085.5" r="3.1" fill="none" stroke="#8c7f6d" stroke-width="0.9"/>
<circle cx="331.4" cy="1115.7" r="3.1" fill="none" stroke="#8c7f6d" stroke-width="0.9"/>
<circle cx="314.2" cy="1103.2" r="3.1" fill="none" stroke="#8c7f6d" stroke-width="0.9"/>
<circle cx="326.6" cy="1086.4" r="3.1" fill="none" stroke="#8c7f6d" stroke-width="0.9"/>
<circle cx="316.2" cy="1107.7" r="3.1" fill="none" stroke="#8c7f6d" stroke-width="0.9"/>
<circle cx="318.4" cy="1102.1" r="3.1" fill="none" stroke="#8c7f6d" stroke-width="0.9"/>
<circle cx="336.6" cy="1119.1" r="3.1" fill="none" stroke="#8c7f6d" stroke-width="0.9"/>
<circle cx="336.4" cy="1118.0" r="3.1" fill="none" stroke="#8c7f6d" stroke-width="0.9"/>
<circle cx="325.3" cy="1084.5" r="3.1" fill="none" stroke="#8c7f6d" stroke-width="0.9"/>
<circle cx="314.9" cy="1073.8" r="3.1" fill="none" stroke="#8c7f6d" stroke-width="0.9"/>
<circle cx="324.4" cy="1114.1" r="3.1" fill="none" stroke="#8c7f6d" stroke-width="0.9"/>
<circle cx="326.9" cy="1107.3" r="3.1" fill="none" stroke="#8c7f6d" stroke-width="0.9"/>
<circle cx="320.3" cy="1080.7" r="3.1" fill="none" stroke="#8c7f6d" stroke-width="0.9"/>
<circle cx="320.9" cy="1102.3" r="3.1" fill="none" stroke="#8c7f6d" stroke-width="0.9"/>
<circle cx="307.6" cy="1079.9" r="3.1" fill="none" stroke="#8c7f6d" stroke-width="0.9"/>
<circle cx="315.6" cy="1100.9" r="3.1" fill="none" stroke="#8c7f6d" stroke-width="0.9"/>
<circle cx="317.4" cy="1098.2" r="3.1" fill="none" stroke="#8c7f6d" stroke-width="0.9"/>
<circle cx="305.7" cy="1071.5" r="3.1" fill="none" stroke="#8c7f6d" stroke-width="0.9"/>
<circle cx="326.5" cy="1088.5" r="3.1" fill="none" stroke="#8c7f6d" stroke-width="0.9"/>
<circle cx="325.1" cy="1083.8" r="3.1" fill="none" stroke="#8c7f6d" stroke-width="0.9"/>
<circle cx="308.1" cy="1079.2" r="3.1" fill="none" stroke="#8c7f6d" stroke-width="0.9"/>
<circle cx="326.5" cy="1091.5" r="3.1" fill="none" stroke="#8c7f6d" stroke-width="0.9"/>
<circle cx="310.7" cy="1100.9" r="3.1" fill="none" stroke="#8c7f6d" stroke-width="0.9"/>
<circle cx="319.6" cy="1078.0" r="3.1" fill="none" stroke="#8c7f6d" stroke-width="0.9"/>
<circle cx="310.6" cy="1088.9" r="3.1" fill="none" stroke="#8c7f6d" stroke-width="0.9"/>
<circle cx="326.2" cy="1111.8" r="3.1" fill="none" stroke="#8c7f6d" stroke-width="0.9"/>
<circle cx="303.7" cy="1087.3" r="3.1" fill="none" stroke="#8c7f6d" stroke-width="0.9"/>
<circle cx="310.7" cy="1076.0" r="3.1" fill="none" stroke="#8c7f6d" stroke-width="0.9"/>
<circle cx="321.1" cy="1078.5" r="3.1" fill="none" stroke="#8c7f6d" stroke-width="0.9"/>
<circle cx="309.8" cy="1077.1" r="3.1" fill="none" stroke="#8c7f6d" stroke-width="0.9"/>
<circle cx="338.9" cy="1119.2" r="3.1" fill="none" stroke="#8c7f6d" stroke-width="0.9"/>
<circle cx="305.3" cy="1094.3" r="3.1" fill="none" stroke="#8c7f6d" stroke-width="0.9"/>
<circle cx="319.7" cy="1088.2" r="3.1" fill="none" stroke="#8c7f6d" stroke-width="0.9"/>
<circle cx="309.1" cy="1072.2" r="3.1" fill="none" stroke="#8c7f6d" stroke-width="0.9"/>
<circle cx="311.1" cy="1092.3" r="3.1" fill="none" stroke="#8c7f6d" stroke-width="0.9"/>
<circle cx="306.0" cy="1084.3" r="3.1" fill="none" stroke="#8c7f6d" stroke-width="0.9"/>
<circle cx="306.6" cy="1096.7" r="3.1" fill="none" stroke="#8c7f6d" stroke-width="0.9"/>
<circle cx="320.9" cy="1085.2" r="3.1" fill="none" stroke="#8c7f6d" stroke-width="0.9"/>
<circle cx="310.7" cy="1080.4" r="3.1" fill="none" stroke="#8c7f6d" stroke-width="0.9"/>
<circle cx="303.3" cy="1085.4" r="3.1" fill="none" stroke="#8c7f6d" stroke-width="0.9"/>
<circle cx="307.4" cy="1093.6" r="3.1" fill="none" stroke="#8c7f6d" stroke-width="0.9"/>
<circle cx="327.0" cy="1097.0" r="3.1" fill="none" stroke="#8c7f6d" stroke-width="0.9"/>
<circle cx="311.5" cy="1080.6" r="3.1" fill="none" stroke="#8c7f6d" stroke-width="0.9"/>
<circle cx="327.2" cy="1109.0" r="3.1" fill="none" stroke="#8c7f6d" stroke-width="0.9"/>
<circle cx="308.2" cy="1072.7" r="3.1" fill="none" stroke="#8c7f6d" stroke-width="0.9"/>
<circle cx="337.8" cy="1117.8" r="3.1" fill="none" stroke="#8c7f6d" stroke-width="0.9"/>
<circle cx="315.8" cy="1078.2" r="3.1" fill="none" stroke="#8c7f6d" stroke-width="0.9"/>
<circle cx="316.0" cy="1102.6" r="3.1" fill="none" stroke="#8c7f6d" stroke-width="0.9"/>
<circle cx="319.4" cy="1098.1" r="3.1" fill="none" stroke="#8c7f6d" stroke-width="0.9"/>
<circle cx="336.6" cy="1117.9" r="3.1" fill="none" stroke="#8c7f6d" stroke-width="0.9"/>
<circle cx="322.6" cy="1099.0" r="3.1" fill="none" stroke="#8c7f6d" stroke-width="0.9"/>
<circle cx="307.2" cy="1074.8" r="3.1" fill="none" stroke="#8c7f6d" stroke-width="0.9"/>
<circle cx="325.5" cy="1098.5" r="3.1" fill="none" stroke="#8c7f6d" stroke-width="0.9"/>
<circle cx="321.7" cy="1097.3" r="3.1" fill="none" stroke="#8c7f6d" stroke-width="0.9"/>
<circle cx="311.7" cy="1075.9" r="3.1" fill="none" stroke="#8c7f6d" stroke-width="0.9"/>
<circle cx="317.6" cy="1076.7" r="3.1" fill="none" stroke="#8c7f6d" stroke-width="0.9"/>
<circle cx="337.0" cy="1122.0" r="3.1" fill="none" stroke="#8c7f6d" stroke-width="0.9"/>
<circle cx="316.8" cy="1092.8" r="3.1" fill="none" stroke="#8c7f6d" stroke-width="0.9"/>
<circle cx="309.9" cy="1087.9" r="3.1" fill="none" stroke="#8c7f6d" stroke-width="0.9"/>
<circle cx="336.0" cy="1120.6" r="3.1" fill="none" stroke="#8c7f6d" stroke-width="0.9"/>
<circle cx="336.5" cy="1116.9" r="3.1" fill="none" stroke="#8c7f6d" stroke-width="0.9"/>
<circle cx="310.3" cy="1092.9" r="3.1" fill="none" stroke="#8c7f6d" stroke-width="0.9"/>
<circle cx="323.4" cy="1072.9" r="3.1" fill="none" stroke="#8c7f6d" stroke-width="0.9"/>
<circle cx="318.8" cy="1097.5" r="3.1" fill="none" stroke="#8c7f6d" stroke-width="0.9"/>
<circle cx="336.3" cy="1119.0" r="3.1" fill="none" stroke="#8c7f6d" stroke-width="0.9"/>
<circle cx="322.9" cy="1093.5" r="3.1" fill="none" stroke="#8c7f6d" stroke-width="0.9"/>
<circle cx="312.9" cy="1105.6" r="3.1" fill="none" stroke="#8c7f6d" stroke-width="0.9"/>
<circle cx="311.2" cy="1095.4" r="3.1" fill="none" stroke="#8c7f6d" stroke-width="0.9"/>
<circle cx="323.5" cy="1077.4" r="3.1" fill="none" stroke="#8c7f6d" stroke-width="0.9"/>
<circle cx="304.5" cy="1076.4" r="3.1" fill="none" stroke="#8c7f6d" stroke-width="0.9"/>
<circle cx="312.4" cy="1092.0" r="3.1" fill="none" stroke="#8c7f6d" stroke-width="0.9"/>
<circle cx="312.1" cy="1082.8" r="3.1" fill="none" stroke="#8c7f6d" stroke-width="0.9"/>
<circle cx="325.2" cy="1105.7" r="3.1" fill="none" stroke="#8c7f6d" stroke-width="0.9"/>
<circle cx="320.1" cy="1100.0" r="3.1" fill="none" stroke="#8c7f6d" stroke-width="0.9"/>
<circle cx="327.2" cy="1095.5" r="3.1" fill="none" stroke="#8c7f6d" stroke-width="0.9"/>
<circle cx="313.2" cy="1082.7" r="3.1" fill="none" stroke="#8c7f6d" stroke-width="0.9"/>
<circle cx="309.1" cy="1098.0" r="3.1" fill="none" stroke="#8c7f6d" stroke-width="0.9"/>
<circle cx="316.5" cy="1102.1" r="3.1" fill="none" stroke="#8c7f6d" stroke-width="0.9"/>
<circle cx="324.6" cy="1096.8" r="3.1" fill="none" stroke="#8c7f6d" stroke-width="0.9"/>
<circle cx="306.1" cy="1072.8" r="3.1" fill="none" stroke="#8c7f6d" stroke-width="0.9"/>
<circle cx="319.2" cy="1110.6" r="3.1" fill="none" stroke="#8c7f6d" stroke-width="0.9"/>
<circle cx="303.9" cy="1081.7" r="3.1" fill="none" stroke="#8c7f6d" stroke-width="0.9"/>
<circle cx="306.0" cy="1088.0" r="3.1" fill="none" stroke="#8c7f6d" stroke-width="0.9"/>
<circle cx="315.1" cy="1107.2" r="3.1" fill="none" stroke="#8c7f6d" stroke-width="0.9"/>
<circle cx="327.3" cy="1117.0" r="3.1" fill="none" stroke="#8c7f6d" stroke-width="0.9"/>
<circle cx="333.0" cy="1111.0" r="3.1" fill="none" stroke="#8c7f6d" stroke-width="0.9"/>
<circle cx="325.3" cy="1092.6" r="3.1" fill="none" stroke="#8c7f6d" stroke-width="0.9"/>
<circle cx="335.1" cy="1118.3" r="3.1" fill="none" stroke="#8c7f6d" stroke-width="0.9"/>
<circle cx="326.9" cy="1090.4" r="3.1" fill="none" stroke="#8c7f6d" stroke-width="0.9"/>
<circle cx="319.7" cy="1094.9" r="3.1" fill="none" stroke="#8c7f6d" stroke-width="0.9"/>
<circle cx="316.9" cy="1100.4" r="3.1" fill="none" stroke="#8c7f6d" stroke-width="0.9"/>
<circle cx="316.6" cy="1087.2" r="3.1" fill="none" stroke="#8c7f6d" stroke-width="0.9"/>
<circle cx="335.2" cy="1117.0" r="3.1" fill="none" stroke="#8c7f6d" stroke-width="0.9"/>
<circle cx="321.9" cy="1094.1" r="3.1" fill="none" stroke="#8c7f6d" stroke-width="0.9"/>
<circle cx="307.3" cy="1086.2" r="3.1" fill="none" stroke="#8c7f6d" stroke-width="0.9"/>
<circle cx="337.8" cy="1116.4" r="3.1" fill="none" stroke="#8c7f6d" stroke-width="0.9"/>
<circle cx="325.0" cy="1097.1" r="3.1" fill="none" stroke="#8c7f6d" stroke-width="0.9"/>
<circle cx="322.8" cy="1098.2" r="3.1" fill="none" stroke="#8c7f6d" stroke-width="0.9"/>
<circle cx="315.4" cy="1102.6" r="3.1" fill="none" stroke="#8c7f6d" stroke-width="0.9"/>
<circle cx="303.4" cy="1090.2" r="3.1" fill="none" stroke="#8c7f6d" stroke-width="0.9"/>
<circle cx="317.4" cy="1100.7" r="3.1" fill="none" stroke="#8c7f6d" stroke-width="0.9"/>
<circle cx="319.2" cy="1104.3" r="3.1" fill="none" stroke="#8c7f6d" stroke-width="0.9"/>
<circle cx="306.7" cy="1087.0" r="3.1" fill="none" stroke="#8c7f6d" stroke-width="0.9"/>
<circle cx="322.5" cy="1075.2" r="3.1" fill="none" stroke="#8c7f6d" stroke-width="0.9"/>
<circle cx="364.6" cy="1092.1" r="3.1" fill="none" stroke="#8c7f6d" stroke-width="0.9"/>
<circle cx="352.0" cy="1096.1" r="3.1" fill="none" stroke="#8c7f6d" stroke-width="0.9"/>
<circle cx="356.0" cy="1100.8" r="3.1" fill="none" stroke="#8c7f6d" stroke-width="0.9"/>
<circle cx="348.7" cy="1109.6" r="3.1" fill="none" stroke="#8c7f6d" stroke-width="0.9"/>
<circle cx="345.2" cy="1104.9" r="3.1" fill="none" stroke="#8c7f6d" stroke-width="0.9"/>
<circle cx="363.0" cy="1100.0" r="3.1" fill="none" stroke="#8c7f6d" stroke-width="0.9"/>
<circle cx="357.2" cy="1081.4" r="3.1" fill="none" stroke="#8c7f6d" stroke-width="0.9"/>
<circle cx="351.6" cy="1098.4" r="3.1" fill="none" stroke="#8c7f6d" stroke-width="0.9"/>
<circle cx="343.9" cy="1102.9" r="3.1" fill="none" stroke="#8c7f6d" stroke-width="0.9"/>
<circle cx="354.1" cy="1091.6" r="3.1" fill="none" stroke="#8c7f6d" stroke-width="0.9"/>
<circle cx="360.3" cy="1077.1" r="3.1" fill="none" stroke="#8c7f6d" stroke-width="0.9"/>
<circle cx="360.7" cy="1087.4" r="3.1" fill="none" stroke="#8c7f6d" stroke-width="0.9"/>
<circle cx="358.8" cy="1088.9" r="3.1" fill="none" stroke="#8c7f6d" stroke-width="0.9"/>
<circle cx="354.4" cy="1088.6" r="3.1" fill="none" stroke="#8c7f6d" stroke-width="0.9"/>
<circle cx="350.0" cy="1090.4" r="3.1" fill="none" stroke="#8c7f6d" stroke-width="0.9"/>
<circle cx="349.6" cy="1101.6" r="3.1" fill="none" stroke="#8c7f6d" stroke-width="0.9"/>
<circle cx="345.5" cy="1114.9" r="3.1" fill="none" stroke="#8c7f6d" stroke-width="0.9"/>
<circle cx="362.2" cy="1086.5" r="3.1" fill="none" stroke="#8c7f6d" stroke-width="0.9"/>
<circle cx="343.1" cy="1090.6" r="3.1" fill="none" stroke="#8c7f6d" stroke-width="0.9"/>
<circle cx="358.9" cy="1082.6" r="3.1" fill="none" stroke="#8c7f6d" stroke-width="0.9"/>
<circle cx="345.3" cy="1113.8" r="3.1" fill="none" stroke="#8c7f6d" stroke-width="0.9"/>
<circle cx="351.1" cy="1109.8" r="3.1" fill="none" stroke="#8c7f6d" stroke-width="0.9"/>
<circle cx="346.9" cy="1080.9" r="3.1" fill="none" stroke="#8c7f6d" stroke-width="0.9"/>
<circle cx="353.7" cy="1077.5" r="3.1" fill="none" stroke="#8c7f6d" stroke-width="0.9"/>
<circle cx="352.8" cy="1090.4" r="3.1" fill="none" stroke="#8c7f6d" stroke-width="0.9"/>
<circle cx="348.4" cy="1075.1" r="3.1" fill="none" stroke="#8c7f6d" stroke-width="0.9"/>
<circle cx="346.7" cy="1083.7" r="3.1" fill="none" stroke="#8c7f6d" stroke-width="0.9"/>
<circle cx="357.1" cy="1088.3" r="3.1" fill="none" stroke="#8c7f6d" stroke-width="0.9"/>
<circle cx="340.2" cy="1105.7" r="3.1" fill="none" stroke="#8c7f6d" stroke-width="0.9"/>
<circle cx="362.8" cy="1078.1" r="3.1" fill="none" stroke="#8c7f6d" stroke-width="0.9"/>
<circle cx="349.8" cy="1111.9" r="3.1" fill="none" stroke="#8c7f6d" stroke-width="0.9"/>
<circle cx="361.8" cy="1079.6" r="3.1" fill="none" stroke="#8c7f6d" stroke-width="0.9"/>
<circle cx="346.8" cy="1106.5" r="3.1" fill="none" stroke="#8c7f6d" stroke-width="0.9"/>
<circle cx="351.8" cy="1082.8" r="3.1" fill="none" stroke="#8c7f6d" stroke-width="0.9"/>
<circle cx="350.1" cy="1078.2" r="3.1" fill="none" stroke="#8c7f6d" stroke-width="0.9"/>
<circle cx="358.5" cy="1084.4" r="3.1" fill="none" stroke="#8c7f6d" stroke-width="0.9"/>
<circle cx="347.3" cy="1083.7" r="3.1" fill="none" stroke="#8c7f6d" stroke-width="0.9"/>
<circle cx="355.3" cy="1082.1" r="3.1" fill="none" stroke="#8c7f6d" stroke-width="0.9"/>
<circle cx="352.1" cy="1097.9" r="3.1" fill="none" stroke="#8c7f6d" stroke-width="0.9"/>
<circle cx="344.0" cy="1108.8" r="3.1" fill="none" stroke="#8c7f6d" stroke-width="0.9"/>
<circle cx="347.8" cy="1103.4" r="3.1" fill="none" stroke="#8c7f6d" stroke-width="0.9"/>
<circle cx="353.9" cy="1086.8" r="3.1" fill="none" stroke="#8c7f6d" stroke-width="0.9"/>
<circle cx="348.0" cy="1076.1" r="3.1" fill="none" stroke="#8c7f6d" stroke-width="0.9"/>
<circle cx="345.7" cy="1103.6" r="3.1" fill="none" stroke="#8c7f6d" stroke-width="0.9"/>
<circle cx="347.0" cy="1095.9" r="3.1" fill="none" stroke="#8c7f6d" stroke-width="0.9"/>
<circle cx="345.4" cy="1082.8" r="3.1" fill="none" stroke="#8c7f6d" stroke-width="0.9"/>
<circle cx="339.2" cy="1106.2" r="3.1" fill="none" stroke="#8c7f6d" stroke-width="0.9"/>
<circle cx="344.4" cy="1091.2" r="3.1" fill="none" stroke="#8c7f6d" stroke-width="0.9"/>
<circle cx="357.1" cy="1088.8" r="3.1" fill="none" stroke="#8c7f6d" stroke-width="0.9"/>
<circle cx="348.7" cy="1103.4" r="3.1" fill="none" stroke="#8c7f6d" stroke-width="0.9"/>
<circle cx="358.3" cy="1083.8" r="3.1" fill="none" stroke="#8c7f6d" stroke-width="0.9"/>
<circle cx="363.2" cy="1088.8" r="3.1" fill="none" stroke="#8c7f6d" stroke-width="0.9"/>
<circle cx="355.9" cy="1080.7" r="3.1" fill="none" stroke="#8c7f6d" stroke-width="0.9"/>
<circle cx="345.1" cy="1090.2" r="3.1" fill="none" stroke="#8c7f6d" stroke-width="0.9"/>
<circle cx="356.3" cy="1080.6" r="3.1" fill="none" stroke="#8c7f6d" stroke-width="0.9"/>
<circle cx="363.0" cy="1099.2" r="3.1" fill="none" stroke="#8c7f6d" stroke-width="0.9"/>
<circle cx="358.9" cy="1084.1" r="3.1" fill="none" stroke="#8c7f6d" stroke-width="0.9"/>
<circle cx="349.5" cy="1104.6" r="3.1" fill="none" stroke="#8c7f6d" stroke-width="0.9"/>
<circle cx="360.0" cy="1076.1" r="3.1" fill="none" stroke="#8c7f6d" stroke-width="0.9"/>
<circle cx="358.1" cy="1090.8" r="3.1" fill="none" stroke="#8c7f6d" stroke-width="0.9"/>
<circle cx="355.9" cy="1093.6" r="3.1" fill="none" stroke="#8c7f6d" stroke-width="0.9"/>
<circle cx="349.3" cy="1096.4" r="3.1" fill="none" stroke="#8c7f6d" stroke-width="0.9"/>
<circle cx="343.7" cy="1098.1" r="3.1" fill="none" stroke="#8c7f6d" stroke-width="0.9"/>
<circle cx="353.1" cy="1083.9" r="3.1" fill="none" stroke="#8c7f6d" stroke-width="0.9"/>
<circle cx="348.7" cy="1081.6" r="3.1" fill="none" stroke="#8c7f6d" stroke-width="0.9"/>
<circle cx="345.3" cy="1078.5" r="3.1" fill="none" stroke="#8c7f6d" stroke-width="0.9"/>
<circle cx="358.5" cy="1104.0" r="3.1" fill="none" stroke="#8c7f6d" stroke-width="0.9"/>
<circle cx="352.2" cy="1093.2" r="3.1" fill="none" stroke="#8c7f6d" stroke-width="0.9"/>
<circle cx="345.0" cy="1114.2" r="3.1" fill="none" stroke="#8c7f6d" stroke-width="0.9"/>
<circle cx="346.1" cy="1110.9" r="3.1" fill="none" stroke="#8c7f6d" stroke-width="0.9"/>
<circle cx="353.3" cy="1108.3" r="3.1" fill="none" stroke="#8c7f6d" stroke-width="0.9"/>
<circle cx="340.6" cy="1103.8" r="3.1" fill="none" stroke="#8c7f6d" stroke-width="0.9"/>
<circle cx="354.9" cy="1094.0" r="3.1" fill="none" stroke="#8c7f6d" stroke-width="0.9"/>
<circle cx="347.0" cy="1081.8" r="3.1" fill="none" stroke="#8c7f6d" stroke-width="0.9"/>
<circle cx="341.6" cy="1105.5" r="3.1" fill="none" stroke="#8c7f6d" stroke-width="0.9"/>
<circle cx="349.9" cy="1077.4" r="3.1" fill="none" stroke="#8c7f6d" stroke-width="0.9"/>
<circle cx="345.8" cy="1094.4" r="3.1" fill="none" stroke="#8c7f6d" stroke-width="0.9"/>
<circle cx="347.1" cy="1080.0" r="3.1" fill="none" stroke="#8c7f6d" stroke-width="0.9"/>
<circle cx="349.5" cy="1081.1" r="3.1" fill="none" stroke="#8c7f6d" stroke-width="0.9"/>
<circle cx="356.7" cy="1084.0" r="3.1" fill="none" stroke="#8c7f6d" stroke-width="0.9"/>
<circle cx="363.0" cy="1086.1" r="3.1" fill="none" stroke="#8c7f6d" stroke-width="0.9"/>
<circle cx="341.2" cy="1102.4" r="3.1" fill="none" stroke="#8c7f6d" stroke-width="0.9"/>
<circle cx="340.6" cy="1109.4" r="3.1" fill="none" stroke="#8c7f6d" stroke-width="0.9"/>
<circle cx="345.9" cy="1080.8" r="3.1" fill="none" stroke="#8c7f6d" stroke-width="0.9"/>
<circle cx="362.5" cy="1087.3" r="3.1" fill="none" stroke="#8c7f6d" stroke-width="0.9"/>
<circle cx="347.3" cy="1098.3" r="3.1" fill="none" stroke="#8c7f6d" stroke-width="0.9"/>
<circle cx="347.3" cy="1111.7" r="3.1" fill="none" stroke="#8c7f6d" stroke-width="0.9"/>
<circle cx="353.9" cy="1102.0" r="3.1" fill="none" stroke="#8c7f6d" stroke-width="0.9"/>
<circle cx="351.5" cy="1095.8" r="3.1" fill="none" stroke="#8c7f6d" stroke-width="0.9"/>
<circle cx="354.4" cy="1075.8" r="3.1" fill="none" stroke="#8c7f6d" stroke-width="0.9"/>
<circle cx="357.9" cy="1079.8" r="3.1" fill="none" stroke="#8c7f6d" stroke-width="0.9"/>
<circle cx="349.6" cy="1081.1" r="3.1" fill="none" stroke="#8c7f6d" stroke-width="0.9"/>
<circle cx="361.2" cy="1092.3" r="3.1" fill="none" stroke="#8c7f6d" stroke-width="0.9"/>
<circle cx="344.4" cy="1103.6" r="3.1" fill="none" stroke="#8c7f6d" stroke-width="0.9"/>
<circle cx="352.1" cy="1092.1" r="3.1" fill="none" stroke="#8c7f6d" stroke-width="0.9"/>
<circle cx="346.3" cy="1092.9" r="3.1" fill="none" stroke="#8c7f6d" stroke-width="0.9"/>
<circle cx="344.8" cy="1093.1" r="3.1" fill="none" stroke="#8c7f6d" stroke-width="0.9"/>
<circle cx="353.8" cy="1088.6" r="3.1" fill="none" stroke="#8c7f6d" stroke-width="0.9"/>
<circle cx="345.8" cy="1094.0" r="3.1" fill="none" stroke="#8c7f6d" stroke-width="0.9"/>
<circle cx="357.5" cy="1101.1" r="3.1" fill="none" stroke="#8c7f6d" stroke-width="0.9"/>
<circle cx="344.9" cy="1099.2" r="3.1" fill="none" stroke="#8c7f6d" stroke-width="0.9"/>
<circle cx="356.6" cy="1086.3" r="3.1" fill="none" stroke="#8c7f6d" stroke-width="0.9"/>
<circle cx="346.4" cy="1114.2" r="3.1" fill="none" stroke="#8c7f6d" stroke-width="0.9"/>
<circle cx="357.6" cy="1093.3" r="3.1" fill="none" stroke="#8c7f6d" stroke-width="0.9"/>
<circle cx="347.4" cy="1099.7" r="3.1" fill="none" stroke="#8c7f6d" stroke-width="0.9"/>
<circle cx="348.9" cy="1097.3" r="3.1" fill="none" stroke="#8c7f6d" stroke-width="0.9"/>
<circle cx="353.8" cy="1090.9" r="3.1" fill="none" stroke="#8c7f6d" stroke-width="0.9"/>
<circle cx="352.7" cy="1084.0" r="3.1" fill="none" stroke="#8c7f6d" stroke-width="0.9"/>
<circle cx="351.3" cy="1098.4" r="3.1" fill="none" stroke="#8c7f6d" stroke-width="0.9"/>
<circle cx="342.5" cy="1099.3" r="3.1" fill="none" stroke="#8c7f6d" stroke-width="0.9"/>
<circle cx="354.6" cy="1075.8" r="3.1" fill="none" stroke="#8c7f6d" stroke-width="0.9"/>
<circle cx="348.6" cy="1075.5" r="3.1" fill="none" stroke="#8c7f6d" stroke-width="0.9"/>
<circle cx="353.3" cy="1106.1" r="3.1" fill="none" stroke="#8c7f6d" stroke-width="0.9"/>
<circle cx="360.2" cy="1077.5" r="3.1" fill="none" stroke="#8c7f6d" stroke-width="0.9"/>
<circle cx="348.1" cy="1080.2" r="3.1" fill="none" stroke="#8c7f6d" stroke-width="0.9"/>
<circle cx="360.8" cy="1078.5" r="3.1" fill="none" stroke="#8c7f6d" stroke-width="0.9"/>
<circle cx="358.6" cy="1092.3" r="3.1" fill="none" stroke="#8c7f6d" stroke-width="0.9"/>
<circle cx="340.6" cy="1107.6" r="3.1" fill="none" stroke="#8c7f6d" stroke-width="0.9"/>
<circle cx="346.4" cy="1108.4" r="3.1" fill="none" stroke="#8c7f6d" stroke-width="0.9"/>
<circle cx="355.1" cy="1076.8" r="3.1" fill="none" stroke="#8c7f6d" stroke-width="0.9"/>
<circle cx="357.5" cy="1084.1" r="3.1" fill="none" stroke="#8c7f6d" stroke-width="0.9"/>
<circle cx="362.9" cy="1099.7" r="3.1" fill="none" stroke="#8c7f6d" stroke-width="0.9"/>
<circle cx="344.7" cy="1104.8" r="3.1" fill="none" stroke="#8c7f6d" stroke-width="0.9"/>
<circle cx="347.7" cy="1078.9" r="3.1" fill="none" stroke="#8c7f6d" stroke-width="0.9"/>
<circle cx="346.4" cy="1079.2" r="3.1" fill="none" stroke="#8c7f6d" stroke-width="0.9"/>
<circle cx="341.1" cy="1111.0" r="3.1" fill="none" stroke="#8c7f6d" stroke-width="0.9"/>
<circle cx="357.6" cy="1090.7" r="3.1" fill="none" stroke="#8c7f6d" stroke-width="0.9"/>
<circle cx="350.8" cy="1079.6" r="3.1" fill="none" stroke="#8c7f6d" stroke-width="0.9"/>
<circle cx="363.1" cy="1090.8" r="3.1" fill="none" stroke="#8c7f6d" stroke-width="0.9"/>
<circle cx="350.6" cy="1099.5" r="3.1" fill="none" stroke="#8c7f6d" stroke-width="0.9"/>
<circle cx="347.9" cy="1088.9" r="3.1" fill="none" stroke="#8c7f6d" stroke-width="0.9"/>
<circle cx="357.3" cy="1085.0" r="3.1" fill="none" stroke="#8c7f6d" stroke-width="0.9"/>
<circle cx="344.1" cy="1095.9" r="3.1" fill="none" stroke="#8c7f6d" stroke-width="0.9"/>
<circle cx="343.7" cy="1099.1" r="3.1" fill="none" stroke="#8c7f6d" stroke-width="0.9"/>
<circle cx="353.7" cy="1108.8" r="3.1" fill="none" stroke="#8c7f6d" stroke-width="0.9"/>
<circle cx="356.1" cy="1102.3" r="3.1" fill="none" stroke="#8c7f6d" stroke-width="0.9"/>
<circle cx="347.1" cy="1085.4" r="3.1" fill="none" stroke="#8c7f6d" stroke-width="0.9"/>
<circle cx="345.1" cy="1108.4" r="3.1" fill="none" stroke="#8c7f6d" stroke-width="0.9"/>
<circle cx="359.6" cy="1096.3" r="3.1" fill="none" stroke="#8c7f6d" stroke-width="0.9"/>
<circle cx="356.2" cy="1088.7" r="3.1" fill="none" stroke="#8c7f6d" stroke-width="0.9"/>
<circle cx="353.3" cy="1091.4" r="3.1" fill="none" stroke="#8c7f6d" stroke-width="0.9"/>
<circle cx="351.0" cy="1089.5" r="3.1" fill="none" stroke="#8c7f6d" stroke-width="0.9"/>
<circle cx="346.6" cy="1078.5" r="3.1" fill="none" stroke="#8c7f6d" stroke-width="0.9"/>
<circle cx="350.1" cy="1093.3" r="3.1" fill="none" stroke="#8c7f6d" stroke-width="0.9"/>
<circle cx="353.9" cy="1086.4" r="3.1" fill="none" stroke="#8c7f6d" stroke-width="0.9"/>
<circle cx="345.0" cy="1086.7" r="3.1" fill="none" stroke="#8c7f6d" stroke-width="0.9"/>
<circle cx="359.2" cy="1098.3" r="3.1" fill="none" stroke="#8c7f6d" stroke-width="0.9"/>
<circle cx="346.9" cy="1108.9" r="3.1" fill="none" stroke="#8c7f6d" stroke-width="0.9"/>
<circle cx="364.9" cy="1085.2" r="3.1" fill="none" stroke="#8c7f6d" stroke-width="0.9"/>
<circle cx="358.5" cy="1082.4" r="3.1" fill="none" stroke="#8c7f6d" stroke-width="0.9"/>
<line x1="65.8" y1="1011.92" x2="604.3" y2="1011.92" stroke="#a9c3f1" stroke-width="2.1" stroke-dasharray="14.4 7.0"/>
<line x1="298.90" y1="1142.2" x2="298.90" y2="696.5" stroke="#a9c3f1" stroke-width="2.1" stroke-dasharray="14.4 7.05"/>
<line x1="370.70" y1="1142.2" x2="370.70" y2="696.5" stroke="#a9c3f1" stroke-width="2.1" stroke-dasharray="14.4 7.05"/>
<line x1="65.8" y1="1142.2" x2="604.3" y2="1142.2" stroke="#000" stroke-width="1.6"/>
<line x1="65.8" y1="696.5" x2="65.8" y2="1142.2" stroke="#000" stroke-width="1.6"/>
<line x1="89.60" y1="1142.2" x2="89.60" y2="1145.6" stroke="#333" stroke-width="1.2"/>
<text x="89.60" y="1157" font-size="10.6" text-anchor="middle" font-family="Liberation Sans, sans-serif" fill="#4d4d4d">-4</text>
<line x1="212.10" y1="1142.2" x2="212.10" y2="1145.6" stroke="#333" stroke-width="1.2"/>
<text x="212.10" y="1157" font-size="10.6" text-anchor="middle" font-family="Liberation Sans, sans-serif" fill="#4d4d4d">-2</text>
<line x1="334.60" y1="1142.2" x2="334.60" y2="1145.6" stroke="#333" stroke-width="1.2"/>
<text x="334.60" y="1157" font-size="10.6" text-anchor="middle" font-family="Liberation Sans, sans-serif" fill="#4d4d4d">0</text>
<line x1="457.10" y1="1142.2" x2="457.10" y2="1145.6" stroke="#333" stroke-width="1.2"/>
<text x="457.10" y="1157" font-size="10.6" text-anchor="middle" font-family="Liberation Sans, sans-serif" fill="#4d4d4d">2</text>
<line x1="579.60" y1="1142.2" x2="579.60" y2="1145.6" stroke="#333" stroke-width="1.2"/>
<text x="579.60" y="1157" font-size="10.6" text-anchor="middle" font-family="Liberation Sans, sans-serif" fill="#4d4d4d">4</text>
<line x1="62.1" y1="1121.80" x2="65.8" y2="1121.80" stroke="#333" stroke-width="1.2"/>
<text x="59" y="1126.10" font-size="10.6" text-anchor="end" font-family="Liberation Sans, sans-serif" fill="#4d4d4d">0</text>
<line x1="62.1" y1="1037.34" x2="65.8" y2="1037.34" stroke="#333" stroke-width="1.2"/>
<text x="59" y="1041.64" font-size="10.6" text-anchor="end" font-family="Liberation Sans, sans-serif" fill="#4d4d4d">1</text>
<line x1="62.1" y1="952.88" x2="65.8" y2="952.88" stroke="#333" stroke-width="1.2"/>
<text x="59" y="957.18" font-size="10.6" text-anchor="end" font-family="Liberation Sans, sans-serif" fill="#4d4d4d">2</text>
<line x1="62.1" y1="868.42" x2="65.8" y2="868.42" stroke="#333" stroke-width="1.2"/>
<text x="59" y="872.72" font-size="10.6" text-anchor="end" font-family="Liberation Sans, sans-serif" fill="#4d4d4d">3</text>
<line x1="62.1" y1="783.96" x2="65.8" y2="783.96" stroke="#333" stroke-width="1.2"/>
<text x="59" y="788.26" font-size="10.6" text-anchor="end" font-family="Liberation Sans, sans-serif" fill="#4d4d4d">4</text>
<line x1="62.1" y1="699.50" x2="65.8" y2="699.50" stroke="#333" stroke-width="1.2"/>
<text x="59" y="703.80" font-size="10.6" text-anchor="end" font-family="Liberation Sans, sans-serif" fill="#4d4d4d">5</text>
<text x="334.3" y="1175" font-size="16" font-weight="bold" text-anchor="middle" font-family="Liberation Sans, sans-serif" fill="#000">log2FC</text>
<text transform="translate(45.4 918.9) rotate(-90)" font-size="16.6" font-weight="bold" text-anchor="middle" font-family="Liberation Sans, sans-serif" fill="#000">-log10(pvalue)</text>
<text x="625.5" y="888.7" font-size="16" font-weight="bold" letter-spacing="0.45" font-family="Liberation Sans, sans-serif" fill="#000">Class</text>
<circle cx="635.9" cy="909.6" r="3.0" fill="none" stroke="#7db352" stroke-width="0.95"/>
<text x="654.8" y="915.1" font-size="13.6" font-family="Liberation Sans, sans-serif" fill="#000">Down</text>
<circle cx="635.9" cy="931.6" r="3.0" fill="none" stroke="#8c7f6d" stroke-width="0.95"/>
<text x="654.8" y="937.1" font-size="13.6" font-family="Liberation Sans, sans-serif" fill="#000">None</text>
<circle cx="635.9" cy="953.1" r="3.0" fill="none" stroke="#ea6b74" stroke-width="0.95"/>
<text x="654.8" y="958.6" font-size="13.6" font-family="Liberation Sans, sans-serif" fill="#000">Up</text>
</svg></body></html>
